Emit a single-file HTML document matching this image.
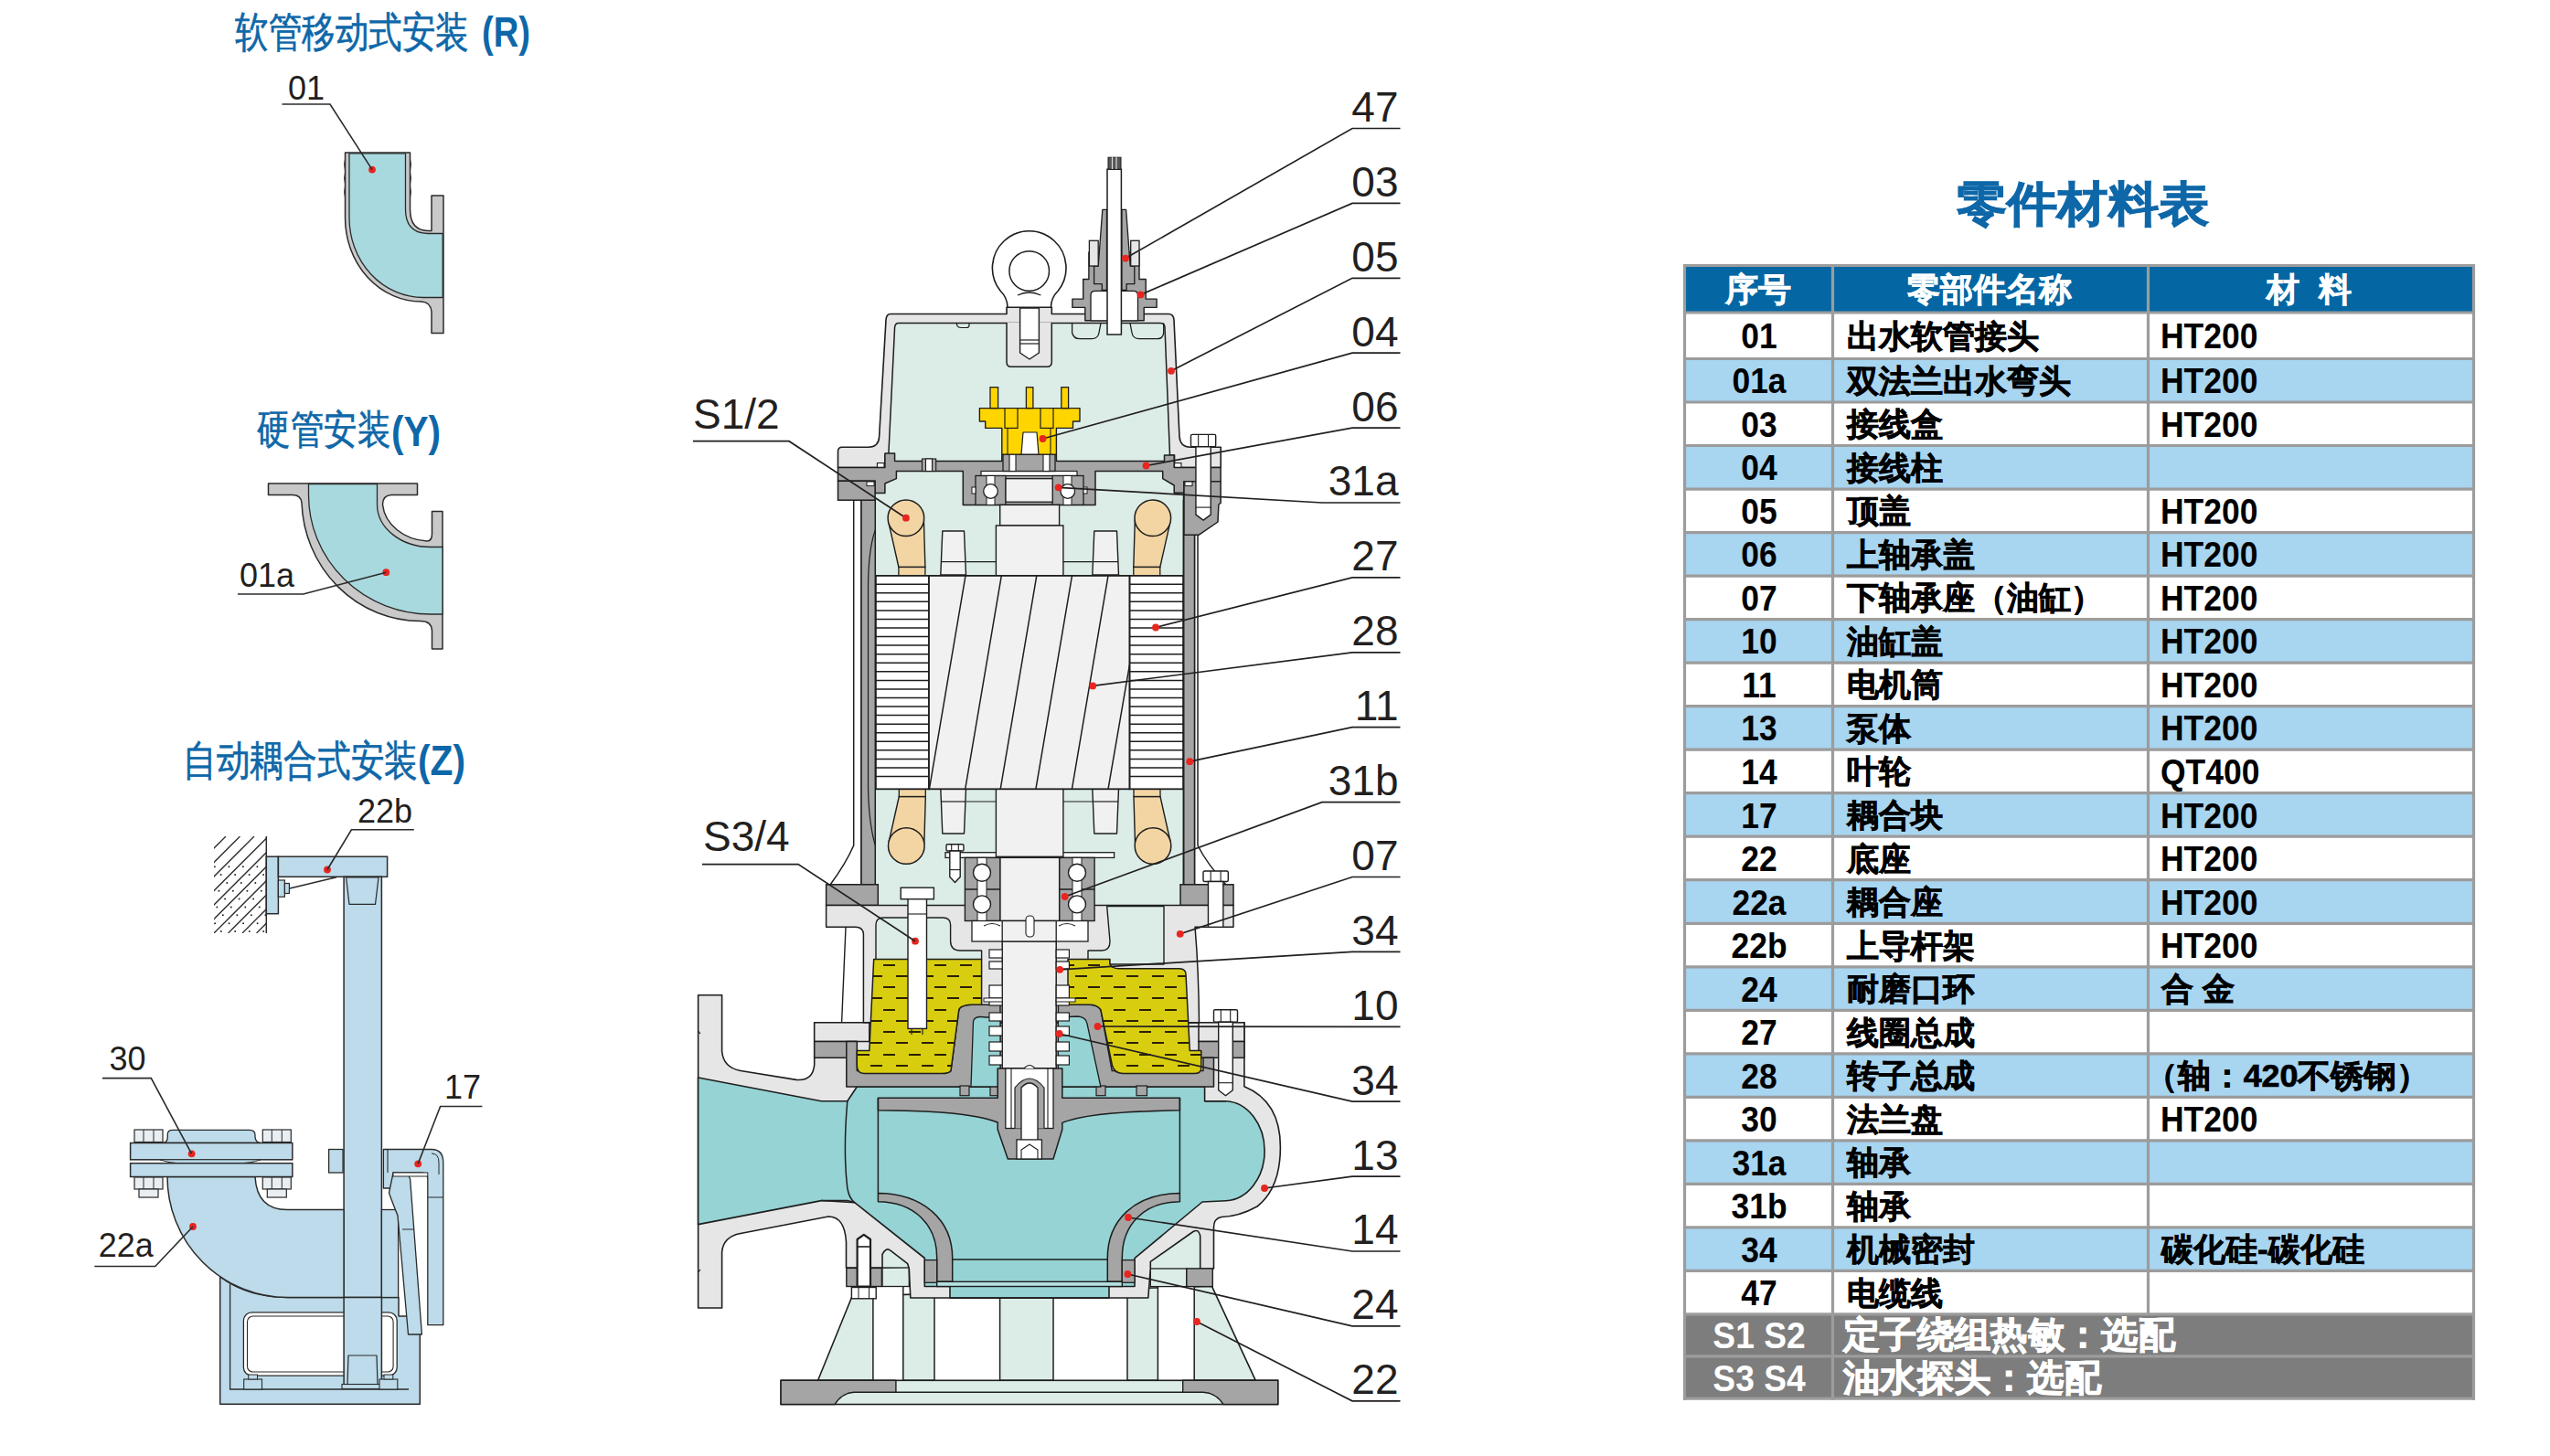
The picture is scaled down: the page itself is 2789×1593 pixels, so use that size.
<!DOCTYPE html>
<html><head><meta charset="utf-8"><style>
html,body{margin:0;padding:0;background:#fff;}
body{width:2789px;height:1593px;overflow:hidden;position:relative;}
svg{position:absolute;left:0;top:0;}
text{font-family:"Liberation Sans",sans-serif;}
.hb{font-size:36px;font-weight:bold;}
.tn{font-size:35px;font-weight:bold;}
.tc{font-size:35px;font-weight:bold;}
.lb{font-size:46px;fill:#231f20;}
.ll{font-size:36px;fill:#231f20;}
.ti{font-size:46px;fill:#0e67a8;stroke:#0e67a8;stroke-width:0.6px;}
.tib{font-size:46px;fill:#0e67a8;font-weight:bold;}
</style></head>
<body>
<svg width="2789" height="1593" viewBox="0 0 2789 1593">
<path d="M377.5 167 L448.5 167 L448.5 229 Q448.5 252 468 252.5 L472 252.5 L472 214 L485 214 L485 364.5 L472 364.5 L472 341 Q471 330.5 461 330 A 83.5 91.5 0 0 1 377.5 238.5 Z" fill="#c9c9c9" stroke="#2b2b2b" stroke-width="1.5" stroke-linejoin="round" />
<path d="M382 167.8 L443.5 167.8 L443.5 229 Q443.5 255 468 255.5 L484.2 255.5 L484.2 325.5 L463 325.5 A 81 87 0 0 1 382 238.5 Z" fill="#a8d9de" stroke="#2b2b2b" stroke-width="1.3" stroke-linejoin="round" />
<path d="M377.5 174 q-1.8 6 0 12" fill="none" stroke="#2b2b2b" stroke-width="1"/>
<path d="M448.5 174 q1.8 6 0 12" fill="none" stroke="#2b2b2b" stroke-width="1"/>
<path d="M377.5 189 q-1.8 6 0 12" fill="none" stroke="#2b2b2b" stroke-width="1"/>
<path d="M448.5 189 q1.8 6 0 12" fill="none" stroke="#2b2b2b" stroke-width="1"/>
<path d="M377.5 204 q-1.8 6 0 12" fill="none" stroke="#2b2b2b" stroke-width="1"/>
<path d="M448.5 204 q1.8 6 0 12" fill="none" stroke="#2b2b2b" stroke-width="1"/>
<circle cx="407" cy="185.6" r="3.9" fill="#e8251f"/>
<text x="315" y="108.5" class="ll" text-anchor="start">01</text>
<polyline points="308.5,114 361,114 407,185.6" fill="none" stroke="#2b2b2b" stroke-width="1.6"/>
<path d="M293.5 529 L456.5 529 L456.5 541.5 L428 541.5 Q418.5 542 418.5 552 A 52.5 44 0 0 0 467 592 Q472.5 592 472.5 584 L472.5 559.5 L484 559.5 L484 710 L472.5 710 L472.5 690 Q472 679.5 460 679.5 A 130 134 0 0 1 330 550 Q329 541.5 320 541.5 L293.5 541.5 Z" fill="#c9c9c9" stroke="#2b2b2b" stroke-width="1.5" stroke-linejoin="round" />
<path d="M337.5 529.5 L412.5 529.5 L412.5 552 A 58.5 46.5 0 0 0 471 598.5 L484 598.5 L484 672 L471 672 A 133.5 130.5 0 0 1 337.5 541.5 Z" fill="#a8d9de" stroke="#2b2b2b" stroke-width="1.3" stroke-linejoin="round" />
<circle cx="422.3" cy="626.2" r="3.9" fill="#e8251f"/>
<text x="262" y="642.2" class="ll" text-anchor="start">01a</text>
<polyline points="260,650 331.7,650 422.3,626.2" fill="none" stroke="#2b2b2b" stroke-width="1.6"/>
<defs><clipPath id="wallclip"><rect x="234" y="915" width="57.5" height="106"/></clipPath></defs>
<g clip-path="url(#wallclip)"><line x1="141.0" y1="1021" x2="247.0" y2="915" stroke="#2b2b2b" stroke-width="1.3"/><line x1="156.5" y1="1021" x2="262.5" y2="915" stroke="#2b2b2b" stroke-width="1.3"/><line x1="172.0" y1="1021" x2="278.0" y2="915" stroke="#2b2b2b" stroke-width="1.3"/><line x1="187.5" y1="1021" x2="293.5" y2="915" stroke="#2b2b2b" stroke-width="1.3"/><line x1="203.0" y1="1021" x2="309.0" y2="915" stroke="#2b2b2b" stroke-width="1.3"/><line x1="218.5" y1="1021" x2="324.5" y2="915" stroke="#2b2b2b" stroke-width="1.3"/><line x1="234.0" y1="1021" x2="340.0" y2="915" stroke="#2b2b2b" stroke-width="1.3"/><line x1="249.5" y1="1021" x2="355.5" y2="915" stroke="#2b2b2b" stroke-width="1.3"/><line x1="265.0" y1="1021" x2="371.0" y2="915" stroke="#2b2b2b" stroke-width="1.3"/><line x1="280.5" y1="1021" x2="386.5" y2="915" stroke="#2b2b2b" stroke-width="1.3"/><line x1="296.0" y1="1021" x2="402.0" y2="915" stroke="#2b2b2b" stroke-width="1.3"/><line x1="311.5" y1="1021" x2="417.5" y2="915" stroke="#2b2b2b" stroke-width="1.3"/><line x1="327.0" y1="1021" x2="433.0" y2="915" stroke="#2b2b2b" stroke-width="1.3"/><line x1="342.5" y1="1021" x2="448.5" y2="915" stroke="#2b2b2b" stroke-width="1.3"/><line x1="358.0" y1="1021" x2="464.0" y2="915" stroke="#2b2b2b" stroke-width="1.3"/><line x1="373.5" y1="1021" x2="479.5" y2="915" stroke="#2b2b2b" stroke-width="1.3"/><line x1="389.0" y1="1021" x2="495.0" y2="915" stroke="#2b2b2b" stroke-width="1.3"/><line x1="404.5" y1="1021" x2="510.5" y2="915" stroke="#2b2b2b" stroke-width="1.3"/><circle cx="117.8" cy="1019.0" r="1.0" fill="#2b2b2b"/><circle cx="126.6" cy="1010.2" r="1.0" fill="#2b2b2b"/><circle cx="135.4" cy="1001.3" r="1.0" fill="#2b2b2b"/><circle cx="144.3" cy="992.5" r="1.0" fill="#2b2b2b"/><circle cx="153.1" cy="983.6" r="1.0" fill="#2b2b2b"/><circle cx="161.9" cy="974.8" r="1.0" fill="#2b2b2b"/><circle cx="170.8" cy="966.0" r="1.0" fill="#2b2b2b"/><circle cx="179.6" cy="957.1" r="1.0" fill="#2b2b2b"/><circle cx="188.4" cy="948.3" r="1.0" fill="#2b2b2b"/><circle cx="133.2" cy="1019.0" r="1.0" fill="#2b2b2b"/><circle cx="142.1" cy="1010.2" r="1.0" fill="#2b2b2b"/><circle cx="150.9" cy="1001.3" r="1.0" fill="#2b2b2b"/><circle cx="159.8" cy="992.5" r="1.0" fill="#2b2b2b"/><circle cx="168.6" cy="983.6" r="1.0" fill="#2b2b2b"/><circle cx="177.4" cy="974.8" r="1.0" fill="#2b2b2b"/><circle cx="186.3" cy="966.0" r="1.0" fill="#2b2b2b"/><circle cx="195.1" cy="957.1" r="1.0" fill="#2b2b2b"/><circle cx="203.9" cy="948.3" r="1.0" fill="#2b2b2b"/><circle cx="148.8" cy="1019.0" r="1.0" fill="#2b2b2b"/><circle cx="157.6" cy="1010.2" r="1.0" fill="#2b2b2b"/><circle cx="166.4" cy="1001.3" r="1.0" fill="#2b2b2b"/><circle cx="175.3" cy="992.5" r="1.0" fill="#2b2b2b"/><circle cx="184.1" cy="983.6" r="1.0" fill="#2b2b2b"/><circle cx="192.9" cy="974.8" r="1.0" fill="#2b2b2b"/><circle cx="201.8" cy="966.0" r="1.0" fill="#2b2b2b"/><circle cx="210.6" cy="957.1" r="1.0" fill="#2b2b2b"/><circle cx="219.4" cy="948.3" r="1.0" fill="#2b2b2b"/><circle cx="164.2" cy="1019.0" r="1.0" fill="#2b2b2b"/><circle cx="173.1" cy="1010.2" r="1.0" fill="#2b2b2b"/><circle cx="181.9" cy="1001.3" r="1.0" fill="#2b2b2b"/><circle cx="190.8" cy="992.5" r="1.0" fill="#2b2b2b"/><circle cx="199.6" cy="983.6" r="1.0" fill="#2b2b2b"/><circle cx="208.4" cy="974.8" r="1.0" fill="#2b2b2b"/><circle cx="217.3" cy="966.0" r="1.0" fill="#2b2b2b"/><circle cx="226.1" cy="957.1" r="1.0" fill="#2b2b2b"/><circle cx="234.9" cy="948.3" r="1.0" fill="#2b2b2b"/><circle cx="179.8" cy="1019.0" r="1.0" fill="#2b2b2b"/><circle cx="188.6" cy="1010.2" r="1.0" fill="#2b2b2b"/><circle cx="197.4" cy="1001.3" r="1.0" fill="#2b2b2b"/><circle cx="206.3" cy="992.5" r="1.0" fill="#2b2b2b"/><circle cx="215.1" cy="983.6" r="1.0" fill="#2b2b2b"/><circle cx="223.9" cy="974.8" r="1.0" fill="#2b2b2b"/><circle cx="232.8" cy="966.0" r="1.0" fill="#2b2b2b"/><circle cx="241.6" cy="957.1" r="1.0" fill="#2b2b2b"/><circle cx="250.4" cy="948.3" r="1.0" fill="#2b2b2b"/><circle cx="195.2" cy="1019.0" r="1.0" fill="#2b2b2b"/><circle cx="204.1" cy="1010.2" r="1.0" fill="#2b2b2b"/><circle cx="212.9" cy="1001.3" r="1.0" fill="#2b2b2b"/><circle cx="221.8" cy="992.5" r="1.0" fill="#2b2b2b"/><circle cx="230.6" cy="983.6" r="1.0" fill="#2b2b2b"/><circle cx="239.4" cy="974.8" r="1.0" fill="#2b2b2b"/><circle cx="248.3" cy="966.0" r="1.0" fill="#2b2b2b"/><circle cx="257.1" cy="957.1" r="1.0" fill="#2b2b2b"/><circle cx="265.9" cy="948.3" r="1.0" fill="#2b2b2b"/><circle cx="210.8" cy="1019.0" r="1.0" fill="#2b2b2b"/><circle cx="219.6" cy="1010.2" r="1.0" fill="#2b2b2b"/><circle cx="228.4" cy="1001.3" r="1.0" fill="#2b2b2b"/><circle cx="237.3" cy="992.5" r="1.0" fill="#2b2b2b"/><circle cx="246.1" cy="983.6" r="1.0" fill="#2b2b2b"/><circle cx="254.9" cy="974.8" r="1.0" fill="#2b2b2b"/><circle cx="263.8" cy="966.0" r="1.0" fill="#2b2b2b"/><circle cx="272.6" cy="957.1" r="1.0" fill="#2b2b2b"/><circle cx="281.4" cy="948.3" r="1.0" fill="#2b2b2b"/><circle cx="226.2" cy="1019.0" r="1.0" fill="#2b2b2b"/><circle cx="235.1" cy="1010.2" r="1.0" fill="#2b2b2b"/><circle cx="243.9" cy="1001.3" r="1.0" fill="#2b2b2b"/><circle cx="252.8" cy="992.5" r="1.0" fill="#2b2b2b"/><circle cx="261.6" cy="983.6" r="1.0" fill="#2b2b2b"/><circle cx="270.4" cy="974.8" r="1.0" fill="#2b2b2b"/><circle cx="279.3" cy="966.0" r="1.0" fill="#2b2b2b"/><circle cx="288.1" cy="957.1" r="1.0" fill="#2b2b2b"/><circle cx="296.9" cy="948.3" r="1.0" fill="#2b2b2b"/><circle cx="241.8" cy="1019.0" r="1.0" fill="#2b2b2b"/><circle cx="250.6" cy="1010.2" r="1.0" fill="#2b2b2b"/><circle cx="259.4" cy="1001.3" r="1.0" fill="#2b2b2b"/><circle cx="268.3" cy="992.5" r="1.0" fill="#2b2b2b"/><circle cx="277.1" cy="983.6" r="1.0" fill="#2b2b2b"/><circle cx="285.9" cy="974.8" r="1.0" fill="#2b2b2b"/><circle cx="294.8" cy="966.0" r="1.0" fill="#2b2b2b"/><circle cx="303.6" cy="957.1" r="1.0" fill="#2b2b2b"/><circle cx="312.4" cy="948.3" r="1.0" fill="#2b2b2b"/><circle cx="257.2" cy="1019.0" r="1.0" fill="#2b2b2b"/><circle cx="266.1" cy="1010.2" r="1.0" fill="#2b2b2b"/><circle cx="274.9" cy="1001.3" r="1.0" fill="#2b2b2b"/><circle cx="283.8" cy="992.5" r="1.0" fill="#2b2b2b"/><circle cx="292.6" cy="983.6" r="1.0" fill="#2b2b2b"/><circle cx="301.4" cy="974.8" r="1.0" fill="#2b2b2b"/><circle cx="310.3" cy="966.0" r="1.0" fill="#2b2b2b"/><circle cx="319.1" cy="957.1" r="1.0" fill="#2b2b2b"/><circle cx="327.9" cy="948.3" r="1.0" fill="#2b2b2b"/><circle cx="272.8" cy="1019.0" r="1.0" fill="#2b2b2b"/><circle cx="281.6" cy="1010.2" r="1.0" fill="#2b2b2b"/><circle cx="290.4" cy="1001.3" r="1.0" fill="#2b2b2b"/><circle cx="299.3" cy="992.5" r="1.0" fill="#2b2b2b"/><circle cx="308.1" cy="983.6" r="1.0" fill="#2b2b2b"/><circle cx="316.9" cy="974.8" r="1.0" fill="#2b2b2b"/><circle cx="325.8" cy="966.0" r="1.0" fill="#2b2b2b"/><circle cx="334.6" cy="957.1" r="1.0" fill="#2b2b2b"/><circle cx="343.4" cy="948.3" r="1.0" fill="#2b2b2b"/><circle cx="288.2" cy="1019.0" r="1.0" fill="#2b2b2b"/><circle cx="297.1" cy="1010.2" r="1.0" fill="#2b2b2b"/><circle cx="305.9" cy="1001.3" r="1.0" fill="#2b2b2b"/><circle cx="314.8" cy="992.5" r="1.0" fill="#2b2b2b"/><circle cx="323.6" cy="983.6" r="1.0" fill="#2b2b2b"/><circle cx="332.4" cy="974.8" r="1.0" fill="#2b2b2b"/><circle cx="341.3" cy="966.0" r="1.0" fill="#2b2b2b"/><circle cx="350.1" cy="957.1" r="1.0" fill="#2b2b2b"/><circle cx="358.9" cy="948.3" r="1.0" fill="#2b2b2b"/><circle cx="303.8" cy="1019.0" r="1.0" fill="#2b2b2b"/><circle cx="312.6" cy="1010.2" r="1.0" fill="#2b2b2b"/><circle cx="321.4" cy="1001.3" r="1.0" fill="#2b2b2b"/><circle cx="330.3" cy="992.5" r="1.0" fill="#2b2b2b"/><circle cx="339.1" cy="983.6" r="1.0" fill="#2b2b2b"/><circle cx="347.9" cy="974.8" r="1.0" fill="#2b2b2b"/><circle cx="356.8" cy="966.0" r="1.0" fill="#2b2b2b"/><circle cx="365.6" cy="957.1" r="1.0" fill="#2b2b2b"/><circle cx="374.4" cy="948.3" r="1.0" fill="#2b2b2b"/><circle cx="319.2" cy="1019.0" r="1.0" fill="#2b2b2b"/><circle cx="328.1" cy="1010.2" r="1.0" fill="#2b2b2b"/><circle cx="336.9" cy="1001.3" r="1.0" fill="#2b2b2b"/><circle cx="345.8" cy="992.5" r="1.0" fill="#2b2b2b"/><circle cx="354.6" cy="983.6" r="1.0" fill="#2b2b2b"/><circle cx="363.4" cy="974.8" r="1.0" fill="#2b2b2b"/><circle cx="372.3" cy="966.0" r="1.0" fill="#2b2b2b"/><circle cx="381.1" cy="957.1" r="1.0" fill="#2b2b2b"/><circle cx="389.9" cy="948.3" r="1.0" fill="#2b2b2b"/><circle cx="334.8" cy="1019.0" r="1.0" fill="#2b2b2b"/><circle cx="343.6" cy="1010.2" r="1.0" fill="#2b2b2b"/><circle cx="352.4" cy="1001.3" r="1.0" fill="#2b2b2b"/><circle cx="361.3" cy="992.5" r="1.0" fill="#2b2b2b"/><circle cx="370.1" cy="983.6" r="1.0" fill="#2b2b2b"/><circle cx="378.9" cy="974.8" r="1.0" fill="#2b2b2b"/><circle cx="387.8" cy="966.0" r="1.0" fill="#2b2b2b"/><circle cx="396.6" cy="957.1" r="1.0" fill="#2b2b2b"/><circle cx="405.4" cy="948.3" r="1.0" fill="#2b2b2b"/><circle cx="350.2" cy="1019.0" r="1.0" fill="#2b2b2b"/><circle cx="359.1" cy="1010.2" r="1.0" fill="#2b2b2b"/><circle cx="367.9" cy="1001.3" r="1.0" fill="#2b2b2b"/><circle cx="376.8" cy="992.5" r="1.0" fill="#2b2b2b"/><circle cx="385.6" cy="983.6" r="1.0" fill="#2b2b2b"/><circle cx="394.4" cy="974.8" r="1.0" fill="#2b2b2b"/><circle cx="403.3" cy="966.0" r="1.0" fill="#2b2b2b"/><circle cx="412.1" cy="957.1" r="1.0" fill="#2b2b2b"/><circle cx="420.9" cy="948.3" r="1.0" fill="#2b2b2b"/><circle cx="365.8" cy="1019.0" r="1.0" fill="#2b2b2b"/><circle cx="374.6" cy="1010.2" r="1.0" fill="#2b2b2b"/><circle cx="383.4" cy="1001.3" r="1.0" fill="#2b2b2b"/><circle cx="392.3" cy="992.5" r="1.0" fill="#2b2b2b"/><circle cx="401.1" cy="983.6" r="1.0" fill="#2b2b2b"/><circle cx="409.9" cy="974.8" r="1.0" fill="#2b2b2b"/><circle cx="418.8" cy="966.0" r="1.0" fill="#2b2b2b"/><circle cx="427.6" cy="957.1" r="1.0" fill="#2b2b2b"/><circle cx="436.4" cy="948.3" r="1.0" fill="#2b2b2b"/><circle cx="381.2" cy="1019.0" r="1.0" fill="#2b2b2b"/><circle cx="390.1" cy="1010.2" r="1.0" fill="#2b2b2b"/><circle cx="398.9" cy="1001.3" r="1.0" fill="#2b2b2b"/><circle cx="407.8" cy="992.5" r="1.0" fill="#2b2b2b"/><circle cx="416.6" cy="983.6" r="1.0" fill="#2b2b2b"/><circle cx="425.4" cy="974.8" r="1.0" fill="#2b2b2b"/><circle cx="434.3" cy="966.0" r="1.0" fill="#2b2b2b"/><circle cx="443.1" cy="957.1" r="1.0" fill="#2b2b2b"/><circle cx="451.9" cy="948.3" r="1.0" fill="#2b2b2b"/><circle cx="396.8" cy="1019.0" r="1.0" fill="#2b2b2b"/><circle cx="405.6" cy="1010.2" r="1.0" fill="#2b2b2b"/><circle cx="414.4" cy="1001.3" r="1.0" fill="#2b2b2b"/><circle cx="423.3" cy="992.5" r="1.0" fill="#2b2b2b"/><circle cx="432.1" cy="983.6" r="1.0" fill="#2b2b2b"/><circle cx="440.9" cy="974.8" r="1.0" fill="#2b2b2b"/><circle cx="449.8" cy="966.0" r="1.0" fill="#2b2b2b"/><circle cx="458.6" cy="957.1" r="1.0" fill="#2b2b2b"/><circle cx="467.4" cy="948.3" r="1.0" fill="#2b2b2b"/><circle cx="412.2" cy="1019.0" r="1.0" fill="#2b2b2b"/><circle cx="421.1" cy="1010.2" r="1.0" fill="#2b2b2b"/><circle cx="429.9" cy="1001.3" r="1.0" fill="#2b2b2b"/><circle cx="438.8" cy="992.5" r="1.0" fill="#2b2b2b"/><circle cx="447.6" cy="983.6" r="1.0" fill="#2b2b2b"/><circle cx="456.4" cy="974.8" r="1.0" fill="#2b2b2b"/><circle cx="465.3" cy="966.0" r="1.0" fill="#2b2b2b"/><circle cx="474.1" cy="957.1" r="1.0" fill="#2b2b2b"/><circle cx="482.9" cy="948.3" r="1.0" fill="#2b2b2b"/></g>
<line x1="291.3" y1="915" x2="291.3" y2="1021" stroke="#2b2b2b" stroke-width="1.5"/>
<rect x="291.3" y="937.2" width="13.1" height="62.5" rx="0" fill="#bddbea" stroke="#2b2b2b" stroke-width="1.5"/>
<rect x="304.4" y="937.2" width="119.2" height="22.1" rx="0" fill="#bddbea" stroke="#2b2b2b" stroke-width="1.5"/>
<rect x="304.4" y="963" width="7" height="18.2" rx="0" fill="#bddbea" stroke="#2b2b2b" stroke-width="1.2"/>
<rect x="311.4" y="966.5" width="5" height="11" rx="0" fill="#bddbea" stroke="#2b2b2b" stroke-width="1.2"/>
<rect x="376.1" y="959.3" width="41.3" height="559" rx="0" fill="#bddbea" stroke="#2b2b2b" stroke-width="1.5"/>
<path d="M378.6 960 L414 960 L410.5 989.4 L382 989.4 Z" fill="#bddbea" stroke="#2b2b2b" stroke-width="1.2" stroke-linejoin="round" />
<path d="M240.7 1397 L240.7 1536.2 L459.3 1536.2 L459.3 1440 L436 1440 L436 1419.5 L314 1419.5 Q270 1419 240.7 1397 Z" fill="#bddbea" stroke="#2b2b2b" stroke-width="1.5" stroke-linejoin="round" />
<path d="M251.6 1405 L251.6 1520 L447 1520" fill="none" stroke="#2b2b2b" stroke-width="1.3"/>
<rect x="266.4" y="1435.8" width="167.8" height="69.4" rx="9" fill="#ffffff" stroke="#2b2b2b" stroke-width="1.3"/>
<rect x="270.5" y="1440" width="159.6" height="61" rx="6" fill="none" stroke="#2b2b2b" stroke-width="1.1"/>
<rect x="376.1" y="1419.5" width="41.3" height="99" rx="0" fill="#bddbea" stroke="#2b2b2b" stroke-width="1.5"/>
<path d="M381 1483 L412 1483 L413 1515 L380 1515 Z" fill="#bddbea" stroke="#2b2b2b" stroke-width="1.2" stroke-linejoin="round" />
<rect x="374" y="1514.5" width="45" height="5" rx="0" fill="#bddbea" stroke="#2b2b2b" stroke-width="1.1"/>
<rect x="266.7" y="1509" width="19.8" height="11" rx="0" fill="#bddbea" stroke="#2b2b2b" stroke-width="1.1"/>
<rect x="271.7" y="1504" width="9.8" height="5" rx="0" fill="#bddbea" stroke="#2b2b2b" stroke-width="1.0"/>
<rect x="415" y="1509" width="19.8" height="11" rx="0" fill="#bddbea" stroke="#2b2b2b" stroke-width="1.1"/>
<rect x="420" y="1504" width="9.8" height="5" rx="0" fill="#bddbea" stroke="#2b2b2b" stroke-width="1.0"/>
<path d="M183 1287.5 L279 1287.5 Q281 1323.5 314 1323.5 L376.1 1323.5 L376.1 1419.5 L314.5 1419.5 A 131.5 132 0 0 1 183 1287.5 Z" fill="#bddbea" stroke="#2b2b2b" stroke-width="1.5" stroke-linejoin="round" />
<rect x="417.4" y="1323.5" width="18.2" height="96" rx="0" fill="#bddbea" stroke="#2b2b2b" stroke-width="1.3"/>
<path d="M178 1250.5 Q183.3 1250 183.3 1244 L183.3 1241 Q183.3 1236.4 189 1236.4 L273 1236.4 Q279 1236.4 279 1242 L279 1244 Q279.5 1250 285 1250.5 Z" fill="#bddbea" stroke="#2b2b2b" stroke-width="1.3" stroke-linejoin="round" />
<rect x="142.6" y="1250.5" width="177.2" height="18.3" rx="0" fill="#bddbea" stroke="#2b2b2b" stroke-width="1.5"/>
<path d="M175 1268.8 Q185 1272.7 200 1272.7 L260 1272.7 Q275 1272.7 285 1268.8 Z" fill="#bddbea" stroke="#2b2b2b" stroke-width="1.0" stroke-linejoin="round" />
<rect x="142.6" y="1272.7" width="177.2" height="14.8" rx="0" fill="#bddbea" stroke="#2b2b2b" stroke-width="1.5"/>
<rect x="147" y="1236" width="31" height="13.5" rx="0" fill="#e8eef2" stroke="#2b2b2b" stroke-width="1.2"/>
<line x1="157" y1="1236" x2="157" y2="1249.5" stroke="#2b2b2b" stroke-width="1"/><line x1="168" y1="1236" x2="168" y2="1249.5" stroke="#2b2b2b" stroke-width="1"/>
<rect x="147" y="1288" width="31" height="13" rx="0" fill="#e8eef2" stroke="#2b2b2b" stroke-width="1.2"/>
<line x1="157" y1="1288" x2="157" y2="1301" stroke="#2b2b2b" stroke-width="1"/><line x1="168" y1="1288" x2="168" y2="1301" stroke="#2b2b2b" stroke-width="1"/>
<rect x="152" y="1301" width="21" height="9" rx="0" fill="#e8eef2" stroke="#2b2b2b" stroke-width="1.2"/>
<rect x="287.3" y="1236" width="31" height="13.5" rx="0" fill="#e8eef2" stroke="#2b2b2b" stroke-width="1.2"/>
<line x1="297.3" y1="1236" x2="297.3" y2="1249.5" stroke="#2b2b2b" stroke-width="1"/><line x1="308.3" y1="1236" x2="308.3" y2="1249.5" stroke="#2b2b2b" stroke-width="1"/>
<rect x="287.3" y="1288" width="31" height="13" rx="0" fill="#e8eef2" stroke="#2b2b2b" stroke-width="1.2"/>
<line x1="297.3" y1="1288" x2="297.3" y2="1301" stroke="#2b2b2b" stroke-width="1"/><line x1="308.3" y1="1288" x2="308.3" y2="1301" stroke="#2b2b2b" stroke-width="1"/>
<rect x="292.3" y="1301" width="21" height="9" rx="0" fill="#e8eef2" stroke="#2b2b2b" stroke-width="1.2"/>
<rect x="359.6" y="1257.5" width="15.5" height="25.5" rx="0" fill="#bddbea" stroke="#2b2b2b" stroke-width="1.3"/>
<path d="M419.4 1257.5 L472 1257.5 Q484.8 1257.5 484.8 1272 L484.8 1449.7 L467.8 1449.7 L467.8 1290 Q467.8 1283 461 1283 L430 1283 L430 1300 L419.4 1300 Z" fill="#bddbea" stroke="#2b2b2b" stroke-width="1.3" stroke-linejoin="round" />
<path d="M424 1257.5 L424 1283 M467.8 1310 L484.8 1310" fill="none" stroke="#2b2b2b" stroke-width="1.1"/>
<path d="M472 1262 Q480 1262 480 1272 L480 1285" fill="none" stroke="#2b2b2b" stroke-width="1"/>
<path d="M430 1283.5 L446 1284 L448.6 1290 L461.4 1460 L446.5 1460 L435 1330 Q427 1310 425.5 1305 Z" fill="#bddbea" stroke="#2b2b2b" stroke-width="1.3" stroke-linejoin="round" />
<line x1="440" y1="1345" x2="453" y2="1345" stroke="#2b2b2b" stroke-width="1"/>
<rect x="430" y="1283" width="37.8" height="4" fill="#fff" stroke="#2b2b2b" stroke-width="1"/>
<circle cx="358" cy="951.5" r="3.9" fill="#e8251f"/>
<circle cx="209.6" cy="1262.3" r="3.9" fill="#e8251f"/>
<circle cx="211" cy="1342" r="3.9" fill="#e8251f"/>
<circle cx="457.2" cy="1273.3" r="3.9" fill="#e8251f"/>
<text x="391" y="900.4" class="ll" text-anchor="start">22b</text>
<polyline points="452.8,907.8 384.4,907.8 358,951.5" fill="none" stroke="#2b2b2b" stroke-width="1.6"/>
<polyline points="316.8,972 368,959.8" fill="none" stroke="#2b2b2b" stroke-width="1.6"/>
<text x="119.5" y="1171.4" class="ll" text-anchor="start">30</text>
<polyline points="112,1179.6 165.3,1179.6 209.6,1262.3" fill="none" stroke="#2b2b2b" stroke-width="1.6"/>
<text x="107.7" y="1374.6" class="ll" text-anchor="start">22a</text>
<polyline points="103.3,1385.5 169.8,1385.5 211,1342" fill="none" stroke="#2b2b2b" stroke-width="1.6"/>
<text x="485.9" y="1201.5" class="ll" text-anchor="start">17</text>
<polyline points="527.4,1210.5 481.6,1210.5 457.2,1273.3" fill="none" stroke="#2b2b2b" stroke-width="1.6"/>
<polygon points="894.6,1510.3 932.1,1418 1325.5,1407.3 1373.3,1510.3" fill="#dcede8" stroke="#1e1e1e" stroke-width="1.6" stroke-linejoin="round"/>
<rect x="954.9" y="1407.5" width="32.9" height="102.8" fill="#ffffff"/>
<rect x="1022" y="1419" width="71.6" height="91.3" fill="#ffffff"/>
<rect x="1152" y="1419" width="81.0" height="91.3" fill="#ffffff"/>
<rect x="1266.4" y="1407.6" width="39.8" height="102.7" fill="#ffffff"/>
<line x1="954.9" y1="1407" x2="954.9" y2="1510.3" stroke="#1e1e1e" stroke-width="1.5"/>
<line x1="987.8" y1="1407" x2="987.8" y2="1510.3" stroke="#1e1e1e" stroke-width="1.5"/>
<line x1="1022" y1="1407" x2="1022" y2="1510.3" stroke="#1e1e1e" stroke-width="1.5"/>
<line x1="1093.6" y1="1407" x2="1093.6" y2="1510.3" stroke="#1e1e1e" stroke-width="1.5"/>
<line x1="1152" y1="1407" x2="1152" y2="1510.3" stroke="#1e1e1e" stroke-width="1.5"/>
<line x1="1233" y1="1407" x2="1233" y2="1510.3" stroke="#1e1e1e" stroke-width="1.5"/>
<line x1="1266.4" y1="1407" x2="1266.4" y2="1510.3" stroke="#1e1e1e" stroke-width="1.5"/>
<line x1="1306.2" y1="1407" x2="1306.2" y2="1510.3" stroke="#1e1e1e" stroke-width="1.5"/>
<rect x="854.1" y="1510.3" width="543.60" height="26.20" rx="0" fill="#dcede8" stroke="#1e1e1e" stroke-width="1.6"/>
<path d="M854.1 1510.3 L979.9 1510.3 L979.9 1523.2 L934 1523.2 Q921 1524 913 1536.5 L854.1 1536.5 Z" fill="#a5a5a5" stroke="#1e1e1e" stroke-width="1.4" stroke-linejoin="round"/>
<path d="M1293.7 1510.3 L1397.7 1510.3 L1397.7 1536.5 L1338 1536.5 Q1330 1524 1316 1523.2 L1293.7 1523.2 Z" fill="#a5a5a5" stroke="#1e1e1e" stroke-width="1.4" stroke-linejoin="round"/>
<line x1="979.9" y1="1523.2" x2="1293.7" y2="1523.2" stroke="#1e1e1e" stroke-width="1.4"/>
<rect x="965" y="1387" width="29.30" height="20.50" rx="0" fill="#dcede8" stroke="#1e1e1e" stroke-width="1.3"/>
<path d="M965 1387 L965 1372.4 Q969 1364 974.2 1368.3 L992.7 1382.7 L994.3 1387.9 Z" fill="#dcede8" stroke="#1e1e1e" stroke-width="0" stroke-linejoin="round"/>
<path d="M1258.3 1388 L1258.3 1380.4 L1305 1347.5 Q1311 1344 1312.7 1352 L1312.7 1388 Z" fill="#dcede8" stroke="#1e1e1e" stroke-width="0" stroke-linejoin="round"/>
<rect x="1258.3" y="1388" width="39.50" height="19.60" rx="0" fill="#dcede8" stroke="#1e1e1e" stroke-width="1.3"/>
<path d="M763.6 1088.7 L789.6 1088.7 L789.6 1150 Q791 1168 810 1171.5 L871 1181.4 Q889 1183 890.7 1165 L890.7 1119 L1360.9 1119 L1360.9 1188.8 Q1400.4 1205 1400.4 1255 Q1400.4 1300 1375 1320 Q1355 1331 1336 1331.5 Q1327.5 1333 1327.5 1343 L1327.5 1388 L1312.7 1388 L1312.7 1352 Q1311 1344 1305 1347.5 L1258.3 1380.4 L1258.3 1388 L1255.8 1420 L995.8 1420 L994.3 1387.9 L992.7 1382.7 L974.2 1368.3 Q969 1364 965 1372.4 L965 1387 L925.5 1387 L925.5 1359 Q924 1331 906 1331 L810 1349.5 Q791 1353 789.6 1370 L789.6 1431 L763.6 1431 Z" fill="#e6e6e6" stroke="#1e1e1e" stroke-width="1.6" stroke-linejoin="round"/>
<line x1="763.6" y1="1128" x2="766" y2="1131" stroke="#1e1e1e" stroke-width="1.2"/>
<line x1="763.6" y1="1392" x2="766" y2="1389" stroke="#1e1e1e" stroke-width="1.2"/>
<path d="M763.6 1179 L898.3 1204.8 L926.8 1204.8 L937.3 1189 L1317.6 1189 L1317.6 1204.8 L1341 1204.8 A 44 54.5 0 0 1 1341 1313.7 L1315 1315 L1241 1376.7 L1241 1407.5 L1213 1407.5 L1213 1420 L1039 1420 L1039 1407.5 L1011.3 1407.5 L1011.3 1376.5 L935 1315.8 L926.8 1313.6 L898.3 1313.6 L763.6 1339.6 Z" fill="#96d3d4" stroke="#1e1e1e" stroke-width="1.6" stroke-linejoin="round"/>
<path d="M926.8 1204.8 Q922 1260 926.8 1300 Q929 1312 935 1315.8" fill="none" stroke="#1e1e1e" stroke-width="1.5" stroke-linejoin="round"/>
<line x1="898.3" y1="1313.6" x2="935" y2="1315.8" stroke="#1e1e1e" stroke-width="1.5"/>
<path d="M1317.6 1204.8 Q1320 1204.8 1341 1204.8" fill="none" stroke="#1e1e1e" stroke-width="1.5" stroke-linejoin="round"/>
<rect x="925.8" y="1387.4" width="38.60" height="20.10" rx="0" fill="#a5a5a5" stroke="#1e1e1e" stroke-width="1.4"/>
<rect x="1297.8" y="1387.9" width="28.50" height="19.70" rx="0" fill="#a5a5a5" stroke="#1e1e1e" stroke-width="1.4"/>
<polygon points="937.6,1407.5 952,1407.5 952,1356 944.8,1350.8 937.6,1356" fill="#ffffff" stroke="#1e1e1e" stroke-width="2.2" stroke-linejoin="round"/>
<line x1="937.6" y1="1364" x2="952" y2="1364" stroke="#1e1e1e" stroke-width="1.6"/>
<rect x="931.4" y="1408.5" width="26.80" height="12.30" rx="0" fill="#ffffff" stroke="#1e1e1e" stroke-width="1.4"/>
<line x1="939" y1="1408.5" x2="939" y2="1420.8" stroke="#1e1e1e" stroke-width="1.0"/>
<line x1="950.5" y1="1408.5" x2="950.5" y2="1420.8" stroke="#1e1e1e" stroke-width="1.0"/>
<line x1="965" y1="1387" x2="994.3" y2="1387" stroke="#1e1e1e" stroke-width="1.3"/>
<rect x="957" y="504" width="337.5" height="486.5" fill="#dcede8"/>
<path d="M933.7 547 L942 547 L942 968 L908 968 Q925 945 933.7 925 Z" fill="#ffffff" stroke="#1e1e1e" stroke-width="1.5" stroke-linejoin="round"/>
<path d="M942 547 L957.3 547 L957.3 968 L942 968 Z" fill="#a5a5a5" stroke="#1e1e1e" stroke-width="1.5" stroke-linejoin="round"/>
<path d="M957.3 580 Q950 600 949.5 640 L949.5 860 Q950 900 957.3 925" fill="none" stroke="#1e1e1e" stroke-width="1.2" stroke-linejoin="round"/>
<path d="M1306.5 585 L1310 585 L1310 925 Q1320 945 1341 968 L1306.5 968 Z" fill="#ffffff" stroke="#1e1e1e" stroke-width="1.5" stroke-linejoin="round"/>
<path d="M1294.5 539 L1306.5 539 L1306.5 968 L1294.5 968 Z" fill="#a5a5a5" stroke="#1e1e1e" stroke-width="1.5" stroke-linejoin="round"/>
<line x1="1294.5" y1="547" x2="1294.5" y2="968" stroke="#1e1e1e" stroke-width="1.6"/>
<rect x="903.6" y="967.8" width="56.70" height="22.70" rx="0" fill="#a5a5a5" stroke="#1e1e1e" stroke-width="1.5"/>
<rect x="1291" y="967.8" width="58.00" height="22.70" rx="0" fill="#a5a5a5" stroke="#1e1e1e" stroke-width="1.5"/>
<rect x="890.7" y="1118.8" width="60.10" height="20.70" rx="0" fill="#e6e6e6" stroke="#1e1e1e" stroke-width="1.5"/>
<rect x="890.7" y="1139.5" width="46.60" height="17.80" rx="0" fill="#a5a5a5" stroke="#1e1e1e" stroke-width="1.5"/>
<rect x="1311" y="1118.8" width="49.90" height="20.70" rx="0" fill="#e6e6e6" stroke="#1e1e1e" stroke-width="1.5"/>
<rect x="1311" y="1139.5" width="49.90" height="17.80" rx="0" fill="#a5a5a5" stroke="#1e1e1e" stroke-width="1.5"/>
<path d="M903.6 990.5 L1349 990.5 L1349 1014.3 L1307 1014.3 Q1311 1060 1311.5 1118.8 L944.4 1118.8 L944.4 1022 Q944 1014.3 935 1014.3 L903.6 1014.3 Z" fill="#e6e6e6" stroke="#1e1e1e" stroke-width="1.5" stroke-linejoin="round"/>
<path d="M925 1014.3 L920.6 1118.8" fill="none" stroke="#1e1e1e" stroke-width="1.4" stroke-linejoin="round"/>
<path d="M925.8 1139.5 L925.8 1189 L1327.5 1189 L1327.5 1157.3 L1316 1157.3 L1316 1171.5 L1216.3 1171.5 L1203.9 1104.7 Q1200 1099.3 1191.4 1099.3 L1157.4 1099.3 L1157.4 1174 L1094 1174 L1094 1099.3 L1062 1099.3 Q1049 1100 1048.6 1106 L1040 1171.5 L937.3 1171.5 L937.3 1139.5 Z" fill="#a5a5a5" stroke="#1e1e1e" stroke-width="1.5" stroke-linejoin="round"/>
<rect x="1050" y="1188" width="10.00" height="10.70" rx="0" fill="#a5a5a5" stroke="#1e1e1e" stroke-width="1.2"/>
<rect x="1083" y="1188" width="10.00" height="10.70" rx="0" fill="#a5a5a5" stroke="#1e1e1e" stroke-width="1.2"/>
<rect x="1199" y="1188" width="10.00" height="10.70" rx="0" fill="#a5a5a5" stroke="#1e1e1e" stroke-width="1.2"/>
<rect x="1243" y="1188" width="11.50" height="10.70" rx="0" fill="#a5a5a5" stroke="#1e1e1e" stroke-width="1.2"/>
<path d="M1062 1189 L1064.5 1117.4 Q1066 1111 1078 1113 L1094 1113 L1094 1189 Z" fill="#96d3d4" stroke="#1e1e1e" stroke-width="1.3" stroke-linejoin="round"/>
<path d="M1157.4 1189 L1157.4 1113 L1179 1112 Q1188 1113 1189 1120 L1203.9 1189 Z" fill="#96d3d4" stroke="#1e1e1e" stroke-width="1.3" stroke-linejoin="round"/>
<path d="M955.7 1049.4 L1073.6 1049.4 L1073.6 1099.3 L1062 1099.3 Q1049 1100 1048.6 1106 L1040 1171.5 Q1038 1174.6 1030 1174.6 L945 1174.6 Q937.3 1174 937.3 1166 L937.3 1149.6 L950.8 1149.6 Z" fill="#d9cd10" stroke="#1e1e1e" stroke-width="1.5" stroke-linejoin="round"/>
<path d="M1168 1049.4 L1214 1049.4 L1214 1055 Q1216 1059.7 1224 1059.7 L1290 1059.7 Q1297 1060 1297 1066 L1301.3 1149.6 L1313.8 1149.6 L1313.8 1168 Q1313.8 1174.6 1306 1174.6 L1228 1174.6 Q1218 1174 1216.3 1165 L1203.9 1104.7 Q1200 1099.3 1191.4 1099.3 L1168 1099.3 Z" fill="#d9cd10" stroke="#1e1e1e" stroke-width="1.5" stroke-linejoin="round"/>
<defs><clipPath id="oilc"><path d="M955.7 1049.4 L1073.6 1049.4 L1073.6 1099.3 L1062 1099.3 Q1049 1100 1048.6 1106 L1040 1171.5 Q1038 1174.6 1030 1174.6 L945 1174.6 Q937.3 1174 937.3 1166 L937.3 1149.6 L950.8 1149.6 Z M1168 1049.4 L1214 1049.4 L1214 1055 Q1216 1059.7 1224 1059.7 L1290 1059.7 Q1297 1060 1297 1066 L1301.3 1149.6 L1313.8 1149.6 L1313.8 1168 Q1313.8 1174.6 1306 1174.6 L1228 1174.6 Q1218 1174 1216.3 1165 L1203.9 1104.7 Q1200 1099.3 1191.4 1099.3 L1168 1099.3 Z"/></clipPath></defs>
<path d="M938 1056 h13 M966 1056 h13 M994 1056 h13 M1022 1056 h13 M1050 1056 h13 M1078 1056 h13 M1106 1056 h13 M1134 1056 h13 M1162 1056 h13 M1190 1056 h13 M1218 1056 h13 M1246 1056 h13 M1274 1056 h13 M1302 1056 h13 M952 1068 h13 M980 1068 h13 M1008 1068 h13 M1036 1068 h13 M1064 1068 h13 M1092 1068 h13 M1120 1068 h13 M1148 1068 h13 M1176 1068 h13 M1204 1068 h13 M1232 1068 h13 M1260 1068 h13 M1288 1068 h13 M938 1080 h13 M966 1080 h13 M994 1080 h13 M1022 1080 h13 M1050 1080 h13 M1078 1080 h13 M1106 1080 h13 M1134 1080 h13 M1162 1080 h13 M1190 1080 h13 M1218 1080 h13 M1246 1080 h13 M1274 1080 h13 M1302 1080 h13 M952 1092 h13 M980 1092 h13 M1008 1092 h13 M1036 1092 h13 M1064 1092 h13 M1092 1092 h13 M1120 1092 h13 M1148 1092 h13 M1176 1092 h13 M1204 1092 h13 M1232 1092 h13 M1260 1092 h13 M1288 1092 h13 M938 1105 h13 M966 1105 h13 M994 1105 h13 M1022 1105 h13 M1050 1105 h13 M1078 1105 h13 M1106 1105 h13 M1134 1105 h13 M1162 1105 h13 M1190 1105 h13 M1218 1105 h13 M1246 1105 h13 M1274 1105 h13 M1302 1105 h13 M952 1117 h13 M980 1117 h13 M1008 1117 h13 M1036 1117 h13 M1064 1117 h13 M1092 1117 h13 M1120 1117 h13 M1148 1117 h13 M1176 1117 h13 M1204 1117 h13 M1232 1117 h13 M1260 1117 h13 M1288 1117 h13 M938 1129 h13 M966 1129 h13 M994 1129 h13 M1022 1129 h13 M1050 1129 h13 M1078 1129 h13 M1106 1129 h13 M1134 1129 h13 M1162 1129 h13 M1190 1129 h13 M1218 1129 h13 M1246 1129 h13 M1274 1129 h13 M1302 1129 h13 M952 1141 h13 M980 1141 h13 M1008 1141 h13 M1036 1141 h13 M1064 1141 h13 M1092 1141 h13 M1120 1141 h13 M1148 1141 h13 M1176 1141 h13 M1204 1141 h13 M1232 1141 h13 M1260 1141 h13 M1288 1141 h13 M938 1154 h13 M966 1154 h13 M994 1154 h13 M1022 1154 h13 M1050 1154 h13 M1078 1154 h13 M1106 1154 h13 M1134 1154 h13 M1162 1154 h13 M1190 1154 h13 M1218 1154 h13 M1246 1154 h13 M1274 1154 h13 M1302 1154 h13 M952 1166 h13 M980 1166 h13 M1008 1166 h13 M1036 1166 h13 M1064 1166 h13 M1092 1166 h13 M1120 1166 h13 M1148 1166 h13 M1176 1166 h13 M1204 1166 h13 M1232 1166 h13 M1260 1166 h13 M1288 1166 h13" stroke="#2a2200" stroke-width="2.2" clip-path="url(#oilc)"/>
<path d="M958 1049.4 L958 1012 Q958 1004 966 1004 L1031 1004 Q1039.6 1004 1039.6 1012 L1039.6 1030 Q1040 1040 1050 1040 L1073.6 1040 L1073.6 1049.4 Z" fill="#dcede8" stroke="#1e1e1e" stroke-width="1.4" stroke-linejoin="round"/>
<path d="M1190 1040 L1205 1040 Q1214 1040 1214 1030 L1210.7 991.6 L1273 991.6 L1273 1055 L1214 1055 L1214 1049.4 L1190 1049.4 Z" fill="#dcede8" stroke="#1e1e1e" stroke-width="1.4" stroke-linejoin="round"/>
<rect x="985.2" y="971.2" width="36.20" height="12.50" rx="0" fill="#ffffff" stroke="#1e1e1e" stroke-width="1.4"/>
<rect x="993" y="983.7" width="20.50" height="141.70" rx="0" fill="#ffffff" stroke="#1e1e1e" stroke-width="1.4"/>
<line x1="997" y1="1125.4" x2="997" y2="1132" stroke="#1e1e1e" stroke-width="1.2"/>
<line x1="1009" y1="1125.4" x2="1009" y2="1132" stroke="#1e1e1e" stroke-width="1.2"/>
<line x1="993" y1="1000" x2="1013.5" y2="1000" stroke="#1e1e1e" stroke-width="1.1"/>
<rect x="1096.2" y="937.3" width="59.00" height="231.70" rx="0" fill="#f1f1f1" stroke="#1e1e1e" stroke-width="1.5"/>
<rect x="1082" y="1039" width="14.20" height="9.00" rx="0" fill="#ffffff" stroke="#1e1e1e" stroke-width="1.2"/>
<rect x="1082" y="1052" width="14.20" height="8.00" rx="0" fill="#ffffff" stroke="#1e1e1e" stroke-width="1.2"/>
<rect x="1082" y="1078" width="14.20" height="14.00" rx="0" fill="#ffffff" stroke="#1e1e1e" stroke-width="1.2"/>
<rect x="1082" y="1094" width="14.20" height="6.00" rx="0" fill="#ffffff" stroke="#1e1e1e" stroke-width="1.2"/>
<rect x="1082" y="1108" width="14.20" height="9.00" rx="0" fill="#ffffff" stroke="#1e1e1e" stroke-width="1.2"/>
<rect x="1082" y="1123" width="14.20" height="10.00" rx="0" fill="#ffffff" stroke="#1e1e1e" stroke-width="1.2"/>
<rect x="1082" y="1140" width="14.20" height="10.00" rx="0" fill="#ffffff" stroke="#1e1e1e" stroke-width="1.2"/>
<rect x="1082" y="1155" width="14.20" height="10.00" rx="0" fill="#ffffff" stroke="#1e1e1e" stroke-width="1.2"/>
<rect x="1155.2" y="1039" width="14.20" height="9.00" rx="0" fill="#ffffff" stroke="#1e1e1e" stroke-width="1.2"/>
<rect x="1155.2" y="1052" width="14.20" height="8.00" rx="0" fill="#ffffff" stroke="#1e1e1e" stroke-width="1.2"/>
<rect x="1155.2" y="1078" width="14.20" height="14.00" rx="0" fill="#ffffff" stroke="#1e1e1e" stroke-width="1.2"/>
<rect x="1155.2" y="1094" width="14.20" height="6.00" rx="0" fill="#ffffff" stroke="#1e1e1e" stroke-width="1.2"/>
<rect x="1155.2" y="1108" width="14.20" height="9.00" rx="0" fill="#ffffff" stroke="#1e1e1e" stroke-width="1.2"/>
<rect x="1155.2" y="1123" width="14.20" height="10.00" rx="0" fill="#ffffff" stroke="#1e1e1e" stroke-width="1.2"/>
<rect x="1155.2" y="1140" width="14.20" height="10.00" rx="0" fill="#ffffff" stroke="#1e1e1e" stroke-width="1.2"/>
<rect x="1155.2" y="1155" width="14.20" height="10.00" rx="0" fill="#ffffff" stroke="#1e1e1e" stroke-width="1.2"/>
<rect x="1076" y="1092" width="20.20" height="4.00" rx="0" fill="#ffffff" stroke="#1e1e1e" stroke-width="1.0"/>
<rect x="1155.2" y="1092" width="20.80" height="4.00" rx="0" fill="#ffffff" stroke="#1e1e1e" stroke-width="1.0"/>
<path d="M960.4 1214.7 L960.4 1201.2 L1091.2 1201.2 L1091.2 1169 L1161.8 1169 L1161.8 1201.2 L1290.4 1201.2 L1290.4 1214.8 Q1190 1216 1161.8 1228.4 L1161.8 1235.8 L1152 1268 L1102.3 1268 L1091.2 1235.7 L1091.2 1228 Q1060 1215 960.4 1214.7 Z" fill="#a5a5a5" stroke="#1e1e1e" stroke-width="1.5" stroke-linejoin="round"/>
<line x1="960.4" y1="1201.2" x2="960.4" y2="1305.5" stroke="#1e1e1e" stroke-width="1.5"/>
<line x1="1290.4" y1="1201.2" x2="1290.4" y2="1305.5" stroke="#1e1e1e" stroke-width="1.5"/>
<rect x="1099.8" y="1169" width="52.20" height="65.50" rx="0" fill="#ffffff" stroke="#1e1e1e" stroke-width="1.3"/>
<line x1="1106" y1="1169" x2="1106" y2="1234.5" stroke="#1e1e1e" stroke-width="1.1"/>
<line x1="1146" y1="1169" x2="1146" y2="1234.5" stroke="#1e1e1e" stroke-width="1.1"/>
<path d="M1110 1234.5 L1110 1190 Q1126 1170 1142 1190 L1142 1234.5" fill="#a5a5a5" stroke="#1e1e1e" stroke-width="1.2" stroke-linejoin="round"/>
<path d="M1117 1250 L1117 1190 Q1126 1180 1135 1190 L1135 1250 Z" fill="#ffffff" stroke="#1e1e1e" stroke-width="1.3" stroke-linejoin="round"/>
<rect x="1112" y="1246.9" width="27.40" height="21.10" rx="0" fill="#ffffff" stroke="#1e1e1e" stroke-width="1.3"/>
<path d="M1117 1268 L1117 1258 L1126 1252 L1135 1258 L1135 1268" fill="none" stroke="#1e1e1e" stroke-width="1.1" stroke-linejoin="round"/>
<path d="M1120 1169 Q1126 1162 1132 1169" fill="#ffffff" stroke="#1e1e1e" stroke-width="1.2" stroke-linejoin="round"/>
<path d="M960.4 1305.5 C1010 1306 1041.7 1335 1041.7 1376.5 L1041.7 1402.3 L1024.7 1402.3 L1024.7 1376 C1024.7 1340 1000 1315 960.4 1314.7 Z" fill="#a5a5a5" stroke="#1e1e1e" stroke-width="1.5" stroke-linejoin="round"/>
<path d="M1290.4 1305.5 C1241 1306 1211.3 1335 1211.3 1376.5 L1211.3 1402.3 L1227.3 1402.3 L1227.3 1376 C1227.3 1340 1251 1315 1290.4 1314.7 Z" fill="#a5a5a5" stroke="#1e1e1e" stroke-width="1.5" stroke-linejoin="round"/>
<rect x="1011.3" y="1378.6" width="13.40" height="24.70" rx="0" fill="#a5a5a5" stroke="#1e1e1e" stroke-width="1.3"/>
<rect x="1227.3" y="1378.6" width="13.70" height="24.70" rx="0" fill="#a5a5a5" stroke="#1e1e1e" stroke-width="1.3"/>
<line x1="1041.7" y1="1378" x2="1211.3" y2="1378" stroke="#1e1e1e" stroke-width="1.4"/>
<rect x="1024.7" y="1402.3" width="202.60" height="5.20" rx="0" fill="#b5e0e0" stroke="#1e1e1e" stroke-width="1.4"/>
<line x1="1039" y1="1420" x2="1213" y2="1420" stroke="#1e1e1e" stroke-width="1.5"/>
<rect x="1034" y="932.7" width="184.60" height="5.70" rx="0" fill="#ffffff" stroke="#1e1e1e" stroke-width="1.3"/>
<rect x="1055.4" y="938.4" width="38.60" height="69.10" rx="0" fill="#a5a5a5" stroke="#1e1e1e" stroke-width="1.4"/>
<rect x="1158.6" y="938.4" width="38.50" height="69.10" rx="0" fill="#a5a5a5" stroke="#1e1e1e" stroke-width="1.4"/>
<line x1="1055.4" y1="973" x2="1094" y2="973" stroke="#1e1e1e" stroke-width="1.3"/>
<line x1="1158.6" y1="973" x2="1197.1" y2="973" stroke="#1e1e1e" stroke-width="1.3"/>
<rect x="1069" y="938.4" width="10.00" height="69.10" rx="0" fill="#ffffff" stroke="#1e1e1e" stroke-width="1.0"/>
<rect x="1173" y="938.4" width="10.00" height="69.10" rx="0" fill="#ffffff" stroke="#1e1e1e" stroke-width="1.0"/>
<circle cx="1074" cy="954.7" r="9.5" fill="#ffffff" stroke="#1e1e1e" stroke-width="1.4"/>
<circle cx="1074" cy="989.4" r="9.5" fill="#ffffff" stroke="#1e1e1e" stroke-width="1.4"/>
<circle cx="1178" cy="954.7" r="9.5" fill="#ffffff" stroke="#1e1e1e" stroke-width="1.4"/>
<circle cx="1178" cy="989.4" r="9.5" fill="#ffffff" stroke="#1e1e1e" stroke-width="1.4"/>
<rect x="1094" y="938.4" width="64.60" height="69.10" rx="0" fill="#f1f1f1" stroke="#1e1e1e" stroke-width="1.3"/>
<rect x="1063" y="1007.5" width="127.00" height="22.50" rx="0" fill="#ffffff" stroke="#1e1e1e" stroke-width="1.3"/>
<rect x="1096.2" y="1007.5" width="59.00" height="22.50" rx="0" fill="#f1f1f1" stroke="#1e1e1e" stroke-width="1.3"/>
<rect x="1122" y="1002" width="9.00" height="23.00" rx="4" fill="#ffffff" stroke="#1e1e1e" stroke-width="1.1"/>
<path d="M1076 1013 Q1085 1008 1094 1013" fill="none" stroke="#1e1e1e" stroke-width="1.2" stroke-linejoin="round"/>
<path d="M1158 1013 Q1167 1008 1176 1013" fill="none" stroke="#1e1e1e" stroke-width="1.2" stroke-linejoin="round"/>
<rect x="1035" y="923.7" width="19.00" height="7.30" rx="1.5" fill="#ffffff" stroke="#1e1e1e" stroke-width="1.4"/><line x1="1040.7" y1="923.7" x2="1040.7" y2="931" stroke="#1e1e1e" stroke-width="1.1"/><line x1="1048.3" y1="923.7" x2="1048.3" y2="931" stroke="#1e1e1e" stroke-width="1.1"/><polygon points="1038.8,931 1050.2,931 1050.2,959.6 1044.5,965.6 1038.8,959.6" fill="#ffffff" stroke="#1e1e1e" stroke-width="1.4" stroke-linejoin="round"/><line x1="1038.8" y1="951.6" x2="1050.2" y2="951.6" stroke="#1e1e1e" stroke-width="1.1"/>
<rect x="1316" y="953" width="27.30" height="11.50" rx="1.5" fill="#ffffff" stroke="#1e1e1e" stroke-width="1.4"/><line x1="1324.19" y1="953" x2="1324.19" y2="964.5" stroke="#1e1e1e" stroke-width="1.1"/><line x1="1335.11" y1="953" x2="1335.11" y2="964.5" stroke="#1e1e1e" stroke-width="1.1"/><rect x="1321.46" y="964.5" width="16.38" height="49.80" rx="0" fill="#ffffff" stroke="#1e1e1e" stroke-width="1.4"/>
<path d="M974 343.5 L1101 343.5 L1101 336.3 L1150.3 336.3 L1150.3 343.5 L1278 343.5 Q1283.5 343.5 1284 350 L1290 478 Q1291 489.2 1302 489.2 L1335.2 489.2 L1335.2 511.5 L916.5 511.5 L916.5 494 Q916.5 489.2 921 489.2 L950 489.2 Q961 489 961.6 478 L969 350 Q969.5 343.5 974 343.5 Z" fill="#e6e6e6" stroke="#1e1e1e" stroke-width="1.6" stroke-linejoin="round"/>
<path d="M983 353.4 L1269 353.4 Q1273.6 353.4 1274 358 L1279.5 498 L1284.6 498 L1284.6 511.5 L967.9 511.5 L967.9 498 L971.8 498 L978.6 358 Q979 353.4 983 353.4 Z" fill="#dcede8" stroke="#1e1e1e" stroke-width="1.5" stroke-linejoin="round"/>
<rect x="959.4" y="506.6" width="7.60" height="4.90" rx="0" fill="#ffffff" stroke="#1e1e1e" stroke-width="1.1"/>
<rect x="1284.6" y="506.6" width="7.40" height="4.90" rx="0" fill="#ffffff" stroke="#1e1e1e" stroke-width="1.1"/>
<path d="M1101 353 L1101 396 Q1101 401.3 1106 401.3 L1145 401.3 Q1150.3 401.3 1150.3 396 L1150.3 353" fill="#e6e6e6" stroke="#1e1e1e" stroke-width="1.5" stroke-linejoin="round"/>
<polygon points="1115.6,337 1136.4,337 1136.4,386 1126,393 1115.6,386" fill="#ffffff" stroke="#1e1e1e" stroke-width="1.4" stroke-linejoin="round"/>
<line x1="1115.6" y1="372" x2="1136.4" y2="372" stroke="#1e1e1e" stroke-width="1.2"/>
<line x1="1115.6" y1="376" x2="1136.4" y2="376" stroke="#1e1e1e" stroke-width="1.2"/>
<path d="M1172.6 353.4 L1172.6 364 Q1174 370.6 1181 370.6 L1194 370.6 Q1201 370.6 1202 364 L1204 353.4" fill="none" stroke="#1e1e1e" stroke-width="1.3" stroke-linejoin="round"/>
<path d="M1236 353.4 L1238 364 Q1239 370.6 1246 370.6 L1266 370.6 Q1272 370.6 1272.7 364 L1272.7 353.4" fill="none" stroke="#1e1e1e" stroke-width="1.3" stroke-linejoin="round"/>
<path d="M1046 353.4 L1047 356.5 Q1048 358.5 1051 358.5 L1057 358.5 Q1060 358.5 1060 356 L1060 353.4" fill="none" stroke="#1e1e1e" stroke-width="1.2" stroke-linejoin="round"/>
<path d="M1102 336.3 Q1102 326 1094 318 A 40.3 40.3 0 1 1 1157.4 318 Q1149.4 326 1149.4 336.3 Z" fill="#ffffff" stroke="#1e1e1e" stroke-width="1.6"/>
<circle cx="1125.7" cy="296.5" r="21.8" fill="#ffffff" stroke="#1e1e1e" stroke-width="1.5"/>
<path d="M1113 323 Q1125.7 317 1138.4 323" fill="none" stroke="#1e1e1e" stroke-width="1.3" stroke-linejoin="round"/>
<path d="M1172.9 336.4 L1172.9 327.1 L1184.7 327.1 L1184.7 305.5 L1190.9 305.5 L1190.9 276 L1246 276 L1246 305.5 L1253.2 305.5 L1253.2 327.1 L1265.1 327.1 L1265.1 336.4 L1251.2 336.4 L1251.2 350.8 L1186.8 350.8 L1186.8 336.4 Z" fill="#a5a5a5" stroke="#1e1e1e" stroke-width="1.4" stroke-linejoin="round"/>
<path d="M1193 350.8 L1193 323 Q1193 318.4 1198 318.4 L1239.5 318.4 Q1244.5 318.4 1244.5 323 L1244.5 350.8 Z" fill="#ffffff" stroke="#1e1e1e" stroke-width="1.3" stroke-linejoin="round"/>
<path d="M1205.8 229.3 L1210.5 229.3 L1210.5 317.4 L1205.3 317.4 L1205.3 310.7 L1196.6 310.7 L1196.6 291 L1201.2 291 Z" fill="#a5a5a5" stroke="#1e1e1e" stroke-width="1.3" stroke-linejoin="round"/>
<path d="M1226.9 229.3 L1231.6 229.3 L1236.2 291 L1240.8 291 L1240.8 310.7 L1232.1 310.7 L1232.1 317.4 L1226.9 317.4 Z" fill="#a5a5a5" stroke="#1e1e1e" stroke-width="1.3" stroke-linejoin="round"/>
<rect x="1191.4" y="263.3" width="9.80" height="27.70" rx="0" fill="#e6e6e6" stroke="#1e1e1e" stroke-width="1.3"/>
<rect x="1236.7" y="263.3" width="9.30" height="27.70" rx="0" fill="#e6e6e6" stroke="#1e1e1e" stroke-width="1.3"/>
<rect x="1211" y="185.2" width="15.40" height="180.80" rx="0" fill="#ffffff" stroke="#1e1e1e" stroke-width="1.5"/>
<rect x="1212" y="172.2" width="14.00" height="13.00" rx="0" fill="#555" stroke="#1e1e1e" stroke-width="1.0"/>
<line x1="1216.5" y1="172" x2="1216.5" y2="185" stroke="#ddd" stroke-width="1.2"/>
<line x1="1221" y1="172" x2="1221" y2="185" stroke="#ddd" stroke-width="1.2"/>
<path d="M916.5 511.5 L967.9 511.5 L967.9 495.9 L978.6 495.9 L978.6 504.4 L1095.8 504.4 L1095.8 497 L1155.4 497 L1155.4 504.4 L1273.5 504.4 L1273.5 498 L1284.2 498 L1284.2 511.5 L1335.1 511.5 L1335.1 526.7 L1295 526.7 L1295 539.2 L1284.2 539.2 L1284.2 531 L1271.7 523.6 L1271.7 515.5 L1198 515.5 L1198 552.4 L1053.3 552.4 L1053.3 515.5 L980.4 515.5 L980.4 523.6 L967.9 529 L967.9 539.6 L957 539.6 L957 526.3 L916.5 526.3 Z" fill="#a5a5a5" stroke="#1e1e1e" stroke-width="1.5" stroke-linejoin="round"/>
<rect x="916.5" y="526.3" width="40.60" height="20.90" rx="0" fill="#a5a5a5" stroke="#1e1e1e" stroke-width="1.5"/>
<rect x="948" y="527" width="8.00" height="4.60" rx="0" fill="#ffffff" stroke="#1e1e1e" stroke-width="1.0"/>
<path d="M1295 526.7 L1335.1 526.7 L1335.1 550.4 L1332.9 552 L1332 571 L1311.4 585.2 L1295 585.2 Z" fill="#a5a5a5" stroke="#1e1e1e" stroke-width="1.5" stroke-linejoin="round"/>
<rect x="1296" y="527" width="8.00" height="4.60" rx="0" fill="#ffffff" stroke="#1e1e1e" stroke-width="1.0"/>
<rect x="1008.5" y="502" width="15.20" height="13.50" rx="0" fill="#a5a5a5" stroke="#1e1e1e" stroke-width="1.1"/>
<rect x="1012.5" y="502" width="7.00" height="13.50" rx="0" fill="#ffffff" stroke="#1e1e1e" stroke-width="1.1"/>
<rect x="1073" y="515.5" width="105.00" height="5.00" rx="0" fill="#ffffff" stroke="#1e1e1e" stroke-width="1.2"/>
<rect x="1067" y="520.5" width="33.00" height="31.90" rx="0" fill="#a5a5a5" stroke="#1e1e1e" stroke-width="1.3"/>
<rect x="1151" y="520.5" width="34.00" height="31.90" rx="0" fill="#a5a5a5" stroke="#1e1e1e" stroke-width="1.3"/>
<rect x="1079" y="520.5" width="9.00" height="31.90" rx="0" fill="#ffffff" stroke="#1e1e1e" stroke-width="1.0"/>
<rect x="1163" y="520.5" width="9.00" height="31.90" rx="0" fill="#ffffff" stroke="#1e1e1e" stroke-width="1.0"/>
<circle cx="1083.5" cy="537.5" r="7.8" fill="#ffffff" stroke="#1e1e1e" stroke-width="1.3"/>
<circle cx="1167.8" cy="537.5" r="7.8" fill="#ffffff" stroke="#1e1e1e" stroke-width="1.3"/>
<rect x="1100" y="523.7" width="51.20" height="25.50" rx="0" fill="#f1f1f1" stroke="#1e1e1e" stroke-width="1.3"/>
<rect x="1063" y="533" width="4.00" height="7.00" rx="0" fill="#ffffff" stroke="#1e1e1e" stroke-width="1.0"/>
<rect x="1185" y="533" width="4.00" height="7.00" rx="0" fill="#ffffff" stroke="#1e1e1e" stroke-width="1.0"/>
<rect x="1097" y="497" width="57.00" height="18.50" rx="0" fill="#a5a5a5" stroke="#1e1e1e" stroke-width="1.3"/>
<rect x="1104" y="497" width="7.00" height="18.50" rx="0" fill="#ffffff" stroke="#1e1e1e" stroke-width="1.1"/>
<rect x="1141" y="497" width="7.00" height="18.50" rx="0" fill="#ffffff" stroke="#1e1e1e" stroke-width="1.1"/>
<path d="M1071.4 446.6 L1181 446.6 L1181 461 L1173.5 461 L1173.5 468.4 L1155.4 468.4 L1155.4 497.1 L1095.8 497.1 L1095.8 468.4 L1077.7 468.4 L1077.7 461 L1071.4 461 Z" fill="#ffd500" stroke="#1e1e1e" stroke-width="1.4" stroke-linejoin="round"/>
<rect x="1083" y="423.7" width="8.60" height="22.90" rx="0" fill="#ffd500" stroke="#1e1e1e" stroke-width="1.3"/>
<rect x="1122.4" y="423.7" width="7.50" height="22.90" rx="0" fill="#ffd500" stroke="#1e1e1e" stroke-width="1.3"/>
<rect x="1160.8" y="423.7" width="7.80" height="22.90" rx="0" fill="#ffd500" stroke="#1e1e1e" stroke-width="1.3"/>
<rect x="1099" y="446.6" width="14.00" height="21.80" rx="0" fill="#ffd500" stroke="#1e1e1e" stroke-width="1.2"/>
<rect x="1138" y="446.6" width="14.00" height="21.80" rx="0" fill="#ffd500" stroke="#1e1e1e" stroke-width="1.2"/>
<polygon points="1117,497.1 1136,497.1 1134,473 1119,473" fill="#ffffff" stroke="#1e1e1e" stroke-width="1.2" stroke-linejoin="round"/>
<line x1="1102" y1="468.4" x2="1102" y2="497.1" stroke="#1e1e1e" stroke-width="1.1"/>
<line x1="1149" y1="468.4" x2="1149" y2="497.1" stroke="#1e1e1e" stroke-width="1.1"/>
<rect x="1302.5" y="475.4" width="27.20" height="13.30" rx="1.5" fill="#ffffff" stroke="#1e1e1e" stroke-width="1.4"/><line x1="1310.66" y1="475.4" x2="1310.66" y2="488.7" stroke="#1e1e1e" stroke-width="1.1"/><line x1="1321.54" y1="475.4" x2="1321.54" y2="488.7" stroke="#1e1e1e" stroke-width="1.1"/><polygon points="1307.94,488.7 1324.26,488.7 1324.26,563.1 1316.1,569.1 1307.94,563.1" fill="#ffffff" stroke="#1e1e1e" stroke-width="1.4" stroke-linejoin="round"/><line x1="1307.94" y1="555.1" x2="1324.26" y2="555.1" stroke="#1e1e1e" stroke-width="1.1"/>
<polygon points="1030.8,581 1054.5,581 1056.5,629 1028.8,629" fill="#f1f1f1" stroke="#1e1e1e" stroke-width="1.4" stroke-linejoin="round"/>
<line x1="1029.8" y1="614.6" x2="1056.0" y2="614.6" stroke="#1e1e1e" stroke-width="1.2"/>
<polygon points="1030.8,912 1054.5,912 1056.5,862.5 1028.8,862.5" fill="#f1f1f1" stroke="#1e1e1e" stroke-width="1.4" stroke-linejoin="round"/>
<line x1="1029.8" y1="877" x2="1056.0" y2="877" stroke="#1e1e1e" stroke-width="1.2"/>
<polygon points="1196.8,581 1221.5,581 1223.5,629 1194.8,629" fill="#f1f1f1" stroke="#1e1e1e" stroke-width="1.4" stroke-linejoin="round"/>
<line x1="1195.8" y1="614.6" x2="1223.0" y2="614.6" stroke="#1e1e1e" stroke-width="1.2"/>
<polygon points="1196.8,912 1221.5,912 1223.5,862.5 1194.8,862.5" fill="#f1f1f1" stroke="#1e1e1e" stroke-width="1.4" stroke-linejoin="round"/>
<line x1="1195.8" y1="877" x2="1223.0" y2="877" stroke="#1e1e1e" stroke-width="1.2"/>
<line x1="1056.5" y1="614.6" x2="1089.4" y2="614.6" stroke="#1e1e1e" stroke-width="1.2"/>
<line x1="1162.9" y1="614.6" x2="1194.8" y2="614.6" stroke="#1e1e1e" stroke-width="1.2"/>
<line x1="1056.5" y1="877" x2="1089.4" y2="877" stroke="#1e1e1e" stroke-width="1.2"/>
<line x1="1162.9" y1="877" x2="1194.8" y2="877" stroke="#1e1e1e" stroke-width="1.2"/>
<rect x="1093.7" y="552.4" width="64.90" height="22.60" rx="0" fill="#f1f1f1" stroke="#1e1e1e" stroke-width="1.4"/>
<rect x="1089.4" y="575" width="73.50" height="54.90" rx="0" fill="#f1f1f1" stroke="#1e1e1e" stroke-width="1.4"/>
<rect x="1089.4" y="862.5" width="73.50" height="74.80" rx="0" fill="#f1f1f1" stroke="#1e1e1e" stroke-width="1.4"/>
<path d="M971.9 571.7 L982.9 620.5 L1011.9 620.5 L1010.4 568.7 Z" fill="#f3d5a3" stroke="#1e1e1e" stroke-width="1.4" stroke-linejoin="round"/><rect x="982.9" y="620.5" width="29.00" height="9.40" rx="0" fill="#f3d5a3" stroke="#1e1e1e" stroke-width="1.3"/><circle cx="990.9" cy="566.7" r="19.8" fill="#f3d5a3" stroke="#1e1e1e" stroke-width="1.5"/>
<path d="M1279.8 571.7 L1268.8 620.5 L1239.8 620.5 L1241.3 568.7 Z" fill="#f3d5a3" stroke="#1e1e1e" stroke-width="1.4" stroke-linejoin="round"/><rect x="1239.8" y="620.5" width="29.00" height="9.40" rx="0" fill="#f3d5a3" stroke="#1e1e1e" stroke-width="1.3"/><circle cx="1260.8" cy="566.7" r="19.8" fill="#f3d5a3" stroke="#1e1e1e" stroke-width="1.5"/>
<path d="M972.3 920.5 L983.3 871.5 L1012.3 871.5 L1010.8 923.5 Z" fill="#f3d5a3" stroke="#1e1e1e" stroke-width="1.4" stroke-linejoin="round"/><rect x="983.3" y="862.5" width="29.00" height="9.00" rx="0" fill="#f3d5a3" stroke="#1e1e1e" stroke-width="1.3"/><circle cx="991.3" cy="925.5" r="19.8" fill="#f3d5a3" stroke="#1e1e1e" stroke-width="1.5"/>
<path d="M1280 920.5 L1269 871.5 L1240 871.5 L1241.5 923.5 Z" fill="#f3d5a3" stroke="#1e1e1e" stroke-width="1.4" stroke-linejoin="round"/><rect x="1240" y="862.5" width="29.00" height="9.00" rx="0" fill="#f3d5a3" stroke="#1e1e1e" stroke-width="1.3"/><circle cx="1261" cy="925.5" r="19.8" fill="#f3d5a3" stroke="#1e1e1e" stroke-width="1.5"/>
<rect x="957.9" y="629.9" width="58.10" height="233.40" rx="0" fill="#ffffff" stroke="#1e1e1e" stroke-width="1.8"/>
<rect x="1235.4" y="629.9" width="58.70" height="233.40" rx="0" fill="#ffffff" stroke="#1e1e1e" stroke-width="1.8"/>
<path d="M957.9 639.2 H1016 M1235.4 639.2 H1294.1 M957.9 648.8 H1016 M1235.4 648.8 H1294.1 M957.9 658.3 H1016 M1235.4 658.3 H1294.1 M957.9 667.9 H1016 M1235.4 667.9 H1294.1 M957.9 677.4 H1016 M1235.4 677.4 H1294.1 M957.9 687.0 H1016 M1235.4 687.0 H1294.1 M957.9 696.6 H1016 M1235.4 696.6 H1294.1 M957.9 706.1 H1016 M1235.4 706.1 H1294.1 M957.9 715.7 H1016 M1235.4 715.7 H1294.1 M957.9 725.2 H1016 M1235.4 725.2 H1294.1 M957.9 734.8 H1016 M1235.4 734.8 H1294.1 M957.9 744.4 H1016 M1235.4 744.4 H1294.1 M957.9 753.9 H1016 M1235.4 753.9 H1294.1 M957.9 763.5 H1016 M1235.4 763.5 H1294.1 M957.9 773.0 H1016 M1235.4 773.0 H1294.1 M957.9 782.6 H1016 M1235.4 782.6 H1294.1 M957.9 792.2 H1016 M1235.4 792.2 H1294.1 M957.9 801.7 H1016 M1235.4 801.7 H1294.1 M957.9 811.3 H1016 M1235.4 811.3 H1294.1 M957.9 820.8 H1016 M1235.4 820.8 H1294.1 M957.9 830.4 H1016 M1235.4 830.4 H1294.1 M957.9 840.0 H1016 M1235.4 840.0 H1294.1 M957.9 849.5 H1016 M1235.4 849.5 H1294.1" stroke="#1e1e1e" stroke-width="1.5"/>
<rect x="1016" y="629.9" width="219.40" height="233.40" rx="0" fill="#f1f1f1" stroke="#1e1e1e" stroke-width="1.8"/>
<path d="M1056 629.9 L1016.4 863.3 M1095.3 629.9 L1055.7 863.3 M1133.8 629.9 L1094.2 863.3 M1172.5 629.9 L1132.9 863.3 M1212 629.9 L1172.4 863.3 M1235.4 727.7 L1212 863.3" stroke="#1e1e1e" stroke-width="1.5"/>
<rect x="1327.5" y="1104.7" width="26.00" height="13.60" rx="1.5" fill="#ffffff" stroke="#1e1e1e" stroke-width="1.4"/><line x1="1335.3" y1="1104.7" x2="1335.3" y2="1118.3" stroke="#1e1e1e" stroke-width="1.1"/><line x1="1345.7" y1="1104.7" x2="1345.7" y2="1118.3" stroke="#1e1e1e" stroke-width="1.1"/><polygon points="1332.7,1118.3 1348.3,1118.3 1348.3,1192.7 1340.5,1198.7 1332.7,1192.7" fill="#ffffff" stroke="#1e1e1e" stroke-width="1.4" stroke-linejoin="round"/><line x1="1332.7" y1="1184.7" x2="1348.3" y2="1184.7" stroke="#1e1e1e" stroke-width="1.1"/>
<text x="1529.5" y="132.9" class="lb" text-anchor="end">47</text>
<polyline points="1231,282.6 1479,140.5 1531.5,140.5" fill="none" stroke="#231f20" stroke-width="1.7"/>
<circle cx="1231" cy="282.6" r="3.9" fill="#e8251f"/>
<text x="1529.5" y="214.8" class="lb" text-anchor="end">03</text>
<polyline points="1247.6,322.4 1479,222.4 1531.5,222.4" fill="none" stroke="#231f20" stroke-width="1.7"/>
<circle cx="1247.6" cy="322.4" r="3.9" fill="#e8251f"/>
<text x="1529.5" y="296.7" class="lb" text-anchor="end">05</text>
<polyline points="1281,405.8 1479,304.3 1531.5,304.3" fill="none" stroke="#231f20" stroke-width="1.7"/>
<circle cx="1281" cy="405.8" r="3.9" fill="#e8251f"/>
<text x="1529.5" y="378.6" class="lb" text-anchor="end">04</text>
<polyline points="1140.5,480 1479,386.2 1531.5,386.2" fill="none" stroke="#231f20" stroke-width="1.7"/>
<circle cx="1140.5" cy="480" r="3.9" fill="#e8251f"/>
<text x="1529.5" y="460.5" class="lb" text-anchor="end">06</text>
<polyline points="1253.5,509.5 1479,468.1 1531.5,468.1" fill="none" stroke="#231f20" stroke-width="1.7"/>
<circle cx="1253.5" cy="509.5" r="3.9" fill="#e8251f"/>
<text x="1529.5" y="542.4" class="lb" text-anchor="end">31a</text>
<polyline points="1157.6,533.3 1446,550.0 1531.5,550.0" fill="none" stroke="#231f20" stroke-width="1.7"/>
<circle cx="1157.6" cy="533.3" r="3.9" fill="#e8251f"/>
<text x="1529.5" y="624.3" class="lb" text-anchor="end">27</text>
<polyline points="1264,686.5 1479,631.9 1531.5,631.9" fill="none" stroke="#231f20" stroke-width="1.7"/>
<circle cx="1264" cy="686.5" r="3.9" fill="#e8251f"/>
<text x="1529.5" y="706.2" class="lb" text-anchor="end">28</text>
<polyline points="1195.2,750.4 1479,713.8 1531.5,713.8" fill="none" stroke="#231f20" stroke-width="1.7"/>
<circle cx="1195.2" cy="750.4" r="3.9" fill="#e8251f"/>
<text x="1529.5" y="788.1" class="lb" text-anchor="end">11</text>
<polyline points="1301.3,833.2 1479,795.7 1531.5,795.7" fill="none" stroke="#231f20" stroke-width="1.7"/>
<circle cx="1301.3" cy="833.2" r="3.9" fill="#e8251f"/>
<text x="1529.5" y="870.0" class="lb" text-anchor="end">31b</text>
<polyline points="1164.7,981 1446,877.6 1531.5,877.6" fill="none" stroke="#231f20" stroke-width="1.7"/>
<circle cx="1164.7" cy="981" r="3.9" fill="#e8251f"/>
<text x="1529.5" y="951.9" class="lb" text-anchor="end">07</text>
<polyline points="1290.7,1021.8 1479,959.5 1531.5,959.5" fill="none" stroke="#231f20" stroke-width="1.7"/>
<circle cx="1290.7" cy="1021.8" r="3.9" fill="#e8251f"/>
<text x="1529.5" y="1033.8" class="lb" text-anchor="end">34</text>
<polyline points="1159.2,1060.8 1479,1041.4 1531.5,1041.4" fill="none" stroke="#231f20" stroke-width="1.7"/>
<circle cx="1159.2" cy="1060.8" r="3.9" fill="#e8251f"/>
<text x="1529.5" y="1115.7" class="lb" text-anchor="end">10</text>
<polyline points="1200.5,1123 1479,1123.3 1531.5,1123.3" fill="none" stroke="#231f20" stroke-width="1.7"/>
<circle cx="1200.5" cy="1123" r="3.9" fill="#e8251f"/>
<text x="1529.5" y="1197.6" class="lb" text-anchor="end">34</text>
<polyline points="1158.6,1131 1479,1205.2 1531.5,1205.2" fill="none" stroke="#231f20" stroke-width="1.7"/>
<circle cx="1158.6" cy="1131" r="3.9" fill="#e8251f"/>
<text x="1529.5" y="1279.5" class="lb" text-anchor="end">13</text>
<polyline points="1383,1300 1479,1287.1 1531.5,1287.1" fill="none" stroke="#231f20" stroke-width="1.7"/>
<circle cx="1383" cy="1300" r="3.9" fill="#e8251f"/>
<text x="1529.5" y="1361.4" class="lb" text-anchor="end">14</text>
<polyline points="1234,1332 1479,1369.0 1531.5,1369.0" fill="none" stroke="#231f20" stroke-width="1.7"/>
<circle cx="1234" cy="1332" r="3.9" fill="#e8251f"/>
<text x="1529.5" y="1443.3" class="lb" text-anchor="end">24</text>
<polyline points="1233.4,1394 1479,1450.9 1531.5,1450.9" fill="none" stroke="#231f20" stroke-width="1.7"/>
<circle cx="1233.4" cy="1394" r="3.9" fill="#e8251f"/>
<text x="1529.5" y="1525.2" class="lb" text-anchor="end">22</text>
<polyline points="1309,1446 1479,1532.8 1531.5,1532.8" fill="none" stroke="#231f20" stroke-width="1.7"/>
<circle cx="1309" cy="1446" r="3.9" fill="#e8251f"/>
<text x="758" y="468.6" class="lb">S1/2</text>
<polyline points="758,482.7 863,482.7 990.9,566.7" fill="none" stroke="#231f20" stroke-width="1.7"/>
<circle cx="990.9" cy="566.7" r="3.9" fill="#e8251f"/><circle cx="1001" cy="1029.7" r="3.9" fill="#e8251f"/>
<text x="769" y="931" class="lb">S3/4</text>
<polyline points="768,945.6 873,945.6 1001,1029.7" fill="none" stroke="#231f20" stroke-width="1.7"/>
<text x="257" y="51" class="ti" textLength="256" lengthAdjust="spacingAndGlyphs">软管移动式安装</text>
<text x="527" y="51" class="tib" textLength="53" lengthAdjust="spacingAndGlyphs">(R)</text>
<text x="281" y="485" class="ti" style="font-size:44px" textLength="146" lengthAdjust="spacingAndGlyphs">硬管安装</text>
<text x="428" y="488" class="tib" textLength="54" lengthAdjust="spacingAndGlyphs">(Y)</text>
<text x="200" y="848" class="ti" textLength="257" lengthAdjust="spacingAndGlyphs">自动耦合式安装</text>
<text x="457" y="848" class="tib" textLength="52" lengthAdjust="spacingAndGlyphs">(Z)</text>
<text x="2140" y="240.6" style="font-size:52px;font-weight:bold;fill:#0e67a8;stroke:#0e67a8;stroke-width:1px" textLength="276" lengthAdjust="spacingAndGlyphs">零件材料表</text>
<rect x="1842.5" y="290.5" width="863.0" height="51.5" fill="#0467a3"/>
<rect x="1842.5" y="342.0" width="863.0" height="50.5" fill="#ffffff"/>
<rect x="1842.5" y="392.5" width="863.0" height="47.5" fill="#a8d5f0"/>
<rect x="1842.5" y="440.0" width="863.0" height="47.5" fill="#ffffff"/>
<rect x="1842.5" y="487.5" width="863.0" height="47.5" fill="#a8d5f0"/>
<rect x="1842.5" y="535.1" width="863.0" height="47.5" fill="#ffffff"/>
<rect x="1842.5" y="582.6" width="863.0" height="47.5" fill="#a8d5f0"/>
<rect x="1842.5" y="630.1" width="863.0" height="47.5" fill="#ffffff"/>
<rect x="1842.5" y="677.6" width="863.0" height="47.5" fill="#a8d5f0"/>
<rect x="1842.5" y="725.1" width="863.0" height="47.5" fill="#ffffff"/>
<rect x="1842.5" y="772.7" width="863.0" height="47.5" fill="#a8d5f0"/>
<rect x="1842.5" y="820.2" width="863.0" height="47.5" fill="#ffffff"/>
<rect x="1842.5" y="867.7" width="863.0" height="47.5" fill="#a8d5f0"/>
<rect x="1842.5" y="915.2" width="863.0" height="47.5" fill="#ffffff"/>
<rect x="1842.5" y="962.7" width="863.0" height="47.5" fill="#a8d5f0"/>
<rect x="1842.5" y="1010.3" width="863.0" height="47.5" fill="#ffffff"/>
<rect x="1842.5" y="1057.8" width="863.0" height="47.5" fill="#a8d5f0"/>
<rect x="1842.5" y="1105.3" width="863.0" height="47.5" fill="#ffffff"/>
<rect x="1842.5" y="1152.8" width="863.0" height="47.5" fill="#a8d5f0"/>
<rect x="1842.5" y="1200.3" width="863.0" height="47.5" fill="#ffffff"/>
<rect x="1842.5" y="1247.9" width="863.0" height="47.5" fill="#a8d5f0"/>
<rect x="1842.5" y="1295.4" width="863.0" height="47.5" fill="#ffffff"/>
<rect x="1842.5" y="1342.9" width="863.0" height="47.5" fill="#a8d5f0"/>
<rect x="1842.5" y="1390.4" width="863.0" height="47.5" fill="#ffffff"/>
<rect x="1842.5" y="1437.9" width="863.0" height="46.0" fill="#7d7d7d"/>
<rect x="1842.5" y="1483.9" width="863.0" height="46.3" fill="#7d7d7d"/>
<line x1="1841.0" y1="290.5" x2="2707.0" y2="290.5" stroke="#9c9c9c" stroke-width="3.2"/>
<line x1="1841.0" y1="342.0" x2="2707.0" y2="342.0" stroke="#9c9c9c" stroke-width="3.2"/>
<line x1="1841.0" y1="392.5" x2="2707.0" y2="392.5" stroke="#9c9c9c" stroke-width="3.2"/>
<line x1="1841.0" y1="440.0" x2="2707.0" y2="440.0" stroke="#9c9c9c" stroke-width="3.2"/>
<line x1="1841.0" y1="487.5" x2="2707.0" y2="487.5" stroke="#9c9c9c" stroke-width="3.2"/>
<line x1="1841.0" y1="535.1" x2="2707.0" y2="535.1" stroke="#9c9c9c" stroke-width="3.2"/>
<line x1="1841.0" y1="582.6" x2="2707.0" y2="582.6" stroke="#9c9c9c" stroke-width="3.2"/>
<line x1="1841.0" y1="630.1" x2="2707.0" y2="630.1" stroke="#9c9c9c" stroke-width="3.2"/>
<line x1="1841.0" y1="677.6" x2="2707.0" y2="677.6" stroke="#9c9c9c" stroke-width="3.2"/>
<line x1="1841.0" y1="725.1" x2="2707.0" y2="725.1" stroke="#9c9c9c" stroke-width="3.2"/>
<line x1="1841.0" y1="772.7" x2="2707.0" y2="772.7" stroke="#9c9c9c" stroke-width="3.2"/>
<line x1="1841.0" y1="820.2" x2="2707.0" y2="820.2" stroke="#9c9c9c" stroke-width="3.2"/>
<line x1="1841.0" y1="867.7" x2="2707.0" y2="867.7" stroke="#9c9c9c" stroke-width="3.2"/>
<line x1="1841.0" y1="915.2" x2="2707.0" y2="915.2" stroke="#9c9c9c" stroke-width="3.2"/>
<line x1="1841.0" y1="962.7" x2="2707.0" y2="962.7" stroke="#9c9c9c" stroke-width="3.2"/>
<line x1="1841.0" y1="1010.3" x2="2707.0" y2="1010.3" stroke="#9c9c9c" stroke-width="3.2"/>
<line x1="1841.0" y1="1057.8" x2="2707.0" y2="1057.8" stroke="#9c9c9c" stroke-width="3.2"/>
<line x1="1841.0" y1="1105.3" x2="2707.0" y2="1105.3" stroke="#9c9c9c" stroke-width="3.2"/>
<line x1="1841.0" y1="1152.8" x2="2707.0" y2="1152.8" stroke="#9c9c9c" stroke-width="3.2"/>
<line x1="1841.0" y1="1200.3" x2="2707.0" y2="1200.3" stroke="#9c9c9c" stroke-width="3.2"/>
<line x1="1841.0" y1="1247.9" x2="2707.0" y2="1247.9" stroke="#9c9c9c" stroke-width="3.2"/>
<line x1="1841.0" y1="1295.4" x2="2707.0" y2="1295.4" stroke="#9c9c9c" stroke-width="3.2"/>
<line x1="1841.0" y1="1342.9" x2="2707.0" y2="1342.9" stroke="#9c9c9c" stroke-width="3.2"/>
<line x1="1841.0" y1="1390.4" x2="2707.0" y2="1390.4" stroke="#9c9c9c" stroke-width="3.2"/>
<line x1="1841.0" y1="1437.9" x2="2707.0" y2="1437.9" stroke="#9c9c9c" stroke-width="3.2"/>
<line x1="1841.0" y1="1483.9" x2="2707.0" y2="1483.9" stroke="#9c9c9c" stroke-width="3.2"/>
<line x1="1841.0" y1="1530.2" x2="2707.0" y2="1530.2" stroke="#9c9c9c" stroke-width="3.2"/>
<line x1="1842.5" y1="289.0" x2="1842.5" y2="1531.7" stroke="#9c9c9c" stroke-width="3.2"/>
<line x1="2004.5" y1="289.0" x2="2004.5" y2="1531.7" stroke="#9c9c9c" stroke-width="3.2"/>
<line x1="2705.5" y1="289.0" x2="2705.5" y2="1531.7" stroke="#9c9c9c" stroke-width="3.2"/>
<line x1="2349.5" y1="289.0" x2="2349.5" y2="1437.9" stroke="#9c9c9c" stroke-width="3.2"/>
<text x="1923" y="329.2" style="font-size:36px;font-weight:bold;stroke:#fff;stroke-width:0.6px" text-anchor="middle" fill="#fff">序号</text>
<text x="2176" y="329.2" style="font-size:36px;font-weight:bold;stroke:#fff;stroke-width:0.6px" text-anchor="middle" fill="#fff">零部件名称</text>
<text x="2479" y="329.2" style="font-size:36px;font-weight:bold;stroke:#fff;stroke-width:0.6px" text-anchor="start" fill="#fff">材</text>
<text x="2536" y="329.2" style="font-size:36px;font-weight:bold;stroke:#fff;stroke-width:0.6px" text-anchor="start" fill="#fff">料</text>
<text transform="translate(1924 381.2) scale(0.91 1)" style="font-size:39px;font-weight:bold" text-anchor="middle" fill="#000">01</text>
<text x="2020" y="379.8" style="font-size:35px;font-weight:bold;stroke:#000;stroke-width:0.7px" text-anchor="start" fill="#000">出水软管接头</text>
<text transform="translate(2363 381.2) scale(0.91 1)" style="font-size:39px;font-weight:bold" text-anchor="start" fill="#000">HT200</text>
<text transform="translate(1924 430.3) scale(0.91 1)" style="font-size:39px;font-weight:bold" text-anchor="middle" fill="#000">01a</text>
<text x="2020" y="428.8" style="font-size:35px;font-weight:bold;stroke:#000;stroke-width:0.7px" text-anchor="start" fill="#000">双法兰出水弯头</text>
<text transform="translate(2363 430.3) scale(0.91 1)" style="font-size:39px;font-weight:bold" text-anchor="start" fill="#000">HT200</text>
<text transform="translate(1924 477.8) scale(0.91 1)" style="font-size:39px;font-weight:bold" text-anchor="middle" fill="#000">03</text>
<text x="2020" y="476.3" style="font-size:35px;font-weight:bold;stroke:#000;stroke-width:0.7px" text-anchor="start" fill="#000">接线盒</text>
<text transform="translate(2363 477.8) scale(0.91 1)" style="font-size:39px;font-weight:bold" text-anchor="start" fill="#000">HT200</text>
<text transform="translate(1924 525.3) scale(0.91 1)" style="font-size:39px;font-weight:bold" text-anchor="middle" fill="#000">04</text>
<text x="2020" y="523.8" style="font-size:35px;font-weight:bold;stroke:#000;stroke-width:0.7px" text-anchor="start" fill="#000">接线柱</text>
<text transform="translate(1924 572.8) scale(0.91 1)" style="font-size:39px;font-weight:bold" text-anchor="middle" fill="#000">05</text>
<text x="2020" y="571.3" style="font-size:35px;font-weight:bold;stroke:#000;stroke-width:0.7px" text-anchor="start" fill="#000">顶盖</text>
<text transform="translate(2363 572.8) scale(0.91 1)" style="font-size:39px;font-weight:bold" text-anchor="start" fill="#000">HT200</text>
<text transform="translate(1924 620.3) scale(0.91 1)" style="font-size:39px;font-weight:bold" text-anchor="middle" fill="#000">06</text>
<text x="2020" y="618.8" style="font-size:35px;font-weight:bold;stroke:#000;stroke-width:0.7px" text-anchor="start" fill="#000">上轴承盖</text>
<text transform="translate(2363 620.3) scale(0.91 1)" style="font-size:39px;font-weight:bold" text-anchor="start" fill="#000">HT200</text>
<text transform="translate(1924 667.9) scale(0.91 1)" style="font-size:39px;font-weight:bold" text-anchor="middle" fill="#000">07</text>
<text x="2020" y="666.4" style="font-size:35px;font-weight:bold;stroke:#000;stroke-width:0.7px" text-anchor="start" fill="#000">下轴承座（油缸）</text>
<text transform="translate(2363 667.9) scale(0.91 1)" style="font-size:39px;font-weight:bold" text-anchor="start" fill="#000">HT200</text>
<text transform="translate(1924 715.4) scale(0.91 1)" style="font-size:39px;font-weight:bold" text-anchor="middle" fill="#000">10</text>
<text x="2020" y="713.9" style="font-size:35px;font-weight:bold;stroke:#000;stroke-width:0.7px" text-anchor="start" fill="#000">油缸盖</text>
<text transform="translate(2363 715.4) scale(0.91 1)" style="font-size:39px;font-weight:bold" text-anchor="start" fill="#000">HT200</text>
<text transform="translate(1924 762.9) scale(0.91 1)" style="font-size:39px;font-weight:bold" text-anchor="middle" fill="#000">11</text>
<text x="2020" y="761.4" style="font-size:35px;font-weight:bold;stroke:#000;stroke-width:0.7px" text-anchor="start" fill="#000">电机筒</text>
<text transform="translate(2363 762.9) scale(0.91 1)" style="font-size:39px;font-weight:bold" text-anchor="start" fill="#000">HT200</text>
<text transform="translate(1924 810.4) scale(0.91 1)" style="font-size:39px;font-weight:bold" text-anchor="middle" fill="#000">13</text>
<text x="2020" y="808.9" style="font-size:35px;font-weight:bold;stroke:#000;stroke-width:0.7px" text-anchor="start" fill="#000">泵体</text>
<text transform="translate(2363 810.4) scale(0.91 1)" style="font-size:39px;font-weight:bold" text-anchor="start" fill="#000">HT200</text>
<text transform="translate(1924 857.9) scale(0.91 1)" style="font-size:39px;font-weight:bold" text-anchor="middle" fill="#000">14</text>
<text x="2020" y="856.4" style="font-size:35px;font-weight:bold;stroke:#000;stroke-width:0.7px" text-anchor="start" fill="#000">叶轮</text>
<text transform="translate(2363 857.9) scale(0.91 1)" style="font-size:39px;font-weight:bold" text-anchor="start" fill="#000">QT400</text>
<text transform="translate(1924 905.5) scale(0.91 1)" style="font-size:39px;font-weight:bold" text-anchor="middle" fill="#000">17</text>
<text x="2020" y="904.0" style="font-size:35px;font-weight:bold;stroke:#000;stroke-width:0.7px" text-anchor="start" fill="#000">耦合块</text>
<text transform="translate(2363 905.5) scale(0.91 1)" style="font-size:39px;font-weight:bold" text-anchor="start" fill="#000">HT200</text>
<text transform="translate(1924 953.0) scale(0.91 1)" style="font-size:39px;font-weight:bold" text-anchor="middle" fill="#000">22</text>
<text x="2020" y="951.5" style="font-size:35px;font-weight:bold;stroke:#000;stroke-width:0.7px" text-anchor="start" fill="#000">底座</text>
<text transform="translate(2363 953.0) scale(0.91 1)" style="font-size:39px;font-weight:bold" text-anchor="start" fill="#000">HT200</text>
<text transform="translate(1924 1000.5) scale(0.91 1)" style="font-size:39px;font-weight:bold" text-anchor="middle" fill="#000">22a</text>
<text x="2020" y="999.0" style="font-size:35px;font-weight:bold;stroke:#000;stroke-width:0.7px" text-anchor="start" fill="#000">耦合座</text>
<text transform="translate(2363 1000.5) scale(0.91 1)" style="font-size:39px;font-weight:bold" text-anchor="start" fill="#000">HT200</text>
<text transform="translate(1924 1048.0) scale(0.91 1)" style="font-size:39px;font-weight:bold" text-anchor="middle" fill="#000">22b</text>
<text x="2020" y="1046.5" style="font-size:35px;font-weight:bold;stroke:#000;stroke-width:0.7px" text-anchor="start" fill="#000">上导杆架</text>
<text transform="translate(2363 1048.0) scale(0.91 1)" style="font-size:39px;font-weight:bold" text-anchor="start" fill="#000">HT200</text>
<text transform="translate(1924 1095.5) scale(0.91 1)" style="font-size:39px;font-weight:bold" text-anchor="middle" fill="#000">24</text>
<text x="2020" y="1094.0" style="font-size:35px;font-weight:bold;stroke:#000;stroke-width:0.7px" text-anchor="start" fill="#000">耐磨口环</text>
<text x="2364" y="1094.0" style="font-size:35px;font-weight:bold;stroke:#000;stroke-width:0.7px" text-anchor="start" fill="#000">合 金</text>
<text transform="translate(1924 1143.1) scale(0.91 1)" style="font-size:39px;font-weight:bold" text-anchor="middle" fill="#000">27</text>
<text x="2020" y="1141.6" style="font-size:35px;font-weight:bold;stroke:#000;stroke-width:0.7px" text-anchor="start" fill="#000">线圈总成</text>
<text transform="translate(1924 1190.6) scale(0.91 1)" style="font-size:39px;font-weight:bold" text-anchor="middle" fill="#000">28</text>
<text x="2020" y="1189.1" style="font-size:35px;font-weight:bold;stroke:#000;stroke-width:0.7px" text-anchor="start" fill="#000">转子总成</text>
<text x="2346" y="1189.1" style="font-size:35px;font-weight:bold;stroke:#000;stroke-width:0.7px" text-anchor="start" fill="#000" textLength="311" lengthAdjust="spacingAndGlyphs">（轴：420不锈钢）</text>
<text transform="translate(1924 1238.1) scale(0.91 1)" style="font-size:39px;font-weight:bold" text-anchor="middle" fill="#000">30</text>
<text x="2020" y="1236.6" style="font-size:35px;font-weight:bold;stroke:#000;stroke-width:0.7px" text-anchor="start" fill="#000">法兰盘</text>
<text transform="translate(2363 1238.1) scale(0.91 1)" style="font-size:39px;font-weight:bold" text-anchor="start" fill="#000">HT200</text>
<text transform="translate(1924 1285.6) scale(0.91 1)" style="font-size:39px;font-weight:bold" text-anchor="middle" fill="#000">31a</text>
<text x="2020" y="1284.1" style="font-size:35px;font-weight:bold;stroke:#000;stroke-width:0.7px" text-anchor="start" fill="#000">轴承</text>
<text transform="translate(1924 1333.1) scale(0.91 1)" style="font-size:39px;font-weight:bold" text-anchor="middle" fill="#000">31b</text>
<text x="2020" y="1331.6" style="font-size:35px;font-weight:bold;stroke:#000;stroke-width:0.7px" text-anchor="start" fill="#000">轴承</text>
<text transform="translate(1924 1380.7) scale(0.91 1)" style="font-size:39px;font-weight:bold" text-anchor="middle" fill="#000">34</text>
<text x="2020" y="1379.2" style="font-size:35px;font-weight:bold;stroke:#000;stroke-width:0.7px" text-anchor="start" fill="#000">机械密封</text>
<text x="2364" y="1379.2" style="font-size:35px;font-weight:bold;stroke:#000;stroke-width:0.7px" text-anchor="start" fill="#000">碳化硅-碳化硅</text>
<text transform="translate(1924 1428.2) scale(0.91 1)" style="font-size:39px;font-weight:bold" text-anchor="middle" fill="#000">47</text>
<text x="2020" y="1426.7" style="font-size:35px;font-weight:bold;stroke:#000;stroke-width:0.7px" text-anchor="start" fill="#000">电缆线</text>
<text transform="translate(1924 1475.4) scale(0.93 1)" style="font-size:40px;font-weight:bold" text-anchor="middle" fill="#fff">S1 S2</text>
<text x="2016" y="1474.4" style="font-size:40px;font-weight:bold;stroke:#fff;stroke-width:0.9px" text-anchor="start" fill="#fff" textLength="363" lengthAdjust="spacingAndGlyphs">定子绕组热敏：选配</text>
<text transform="translate(1924 1521.6) scale(0.93 1)" style="font-size:40px;font-weight:bold" text-anchor="middle" fill="#fff">S3 S4</text>
<text x="2016" y="1520.6" style="font-size:40px;font-weight:bold;stroke:#fff;stroke-width:0.9px" text-anchor="start" fill="#fff" textLength="282" lengthAdjust="spacingAndGlyphs">油水探头：选配</text>
</svg>
</body></html>
